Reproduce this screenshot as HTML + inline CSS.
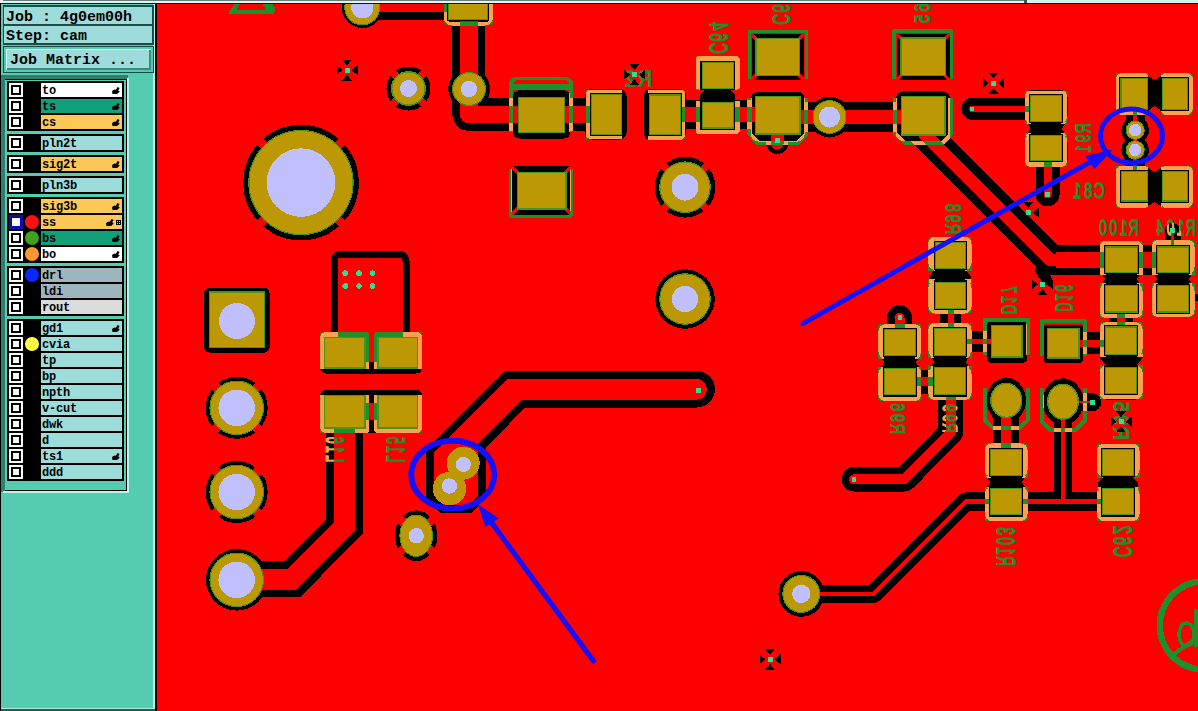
<!DOCTYPE html>
<html><head><meta charset="utf-8"><title>cam</title>
<style>
html,body{margin:0;padding:0;}
body{width:1198px;height:711px;overflow:hidden;position:relative;background:#55c8ac;font-family:"Liberation Mono",monospace;}
.a{position:absolute;box-sizing:border-box;}
.t{position:absolute;font-family:"Liberation Mono",monospace;font-weight:bold;color:#000;white-space:pre;line-height:1;}
.big{font-size:15px;letter-spacing:0px;}
.row{position:absolute;left:7px;width:117px;height:16px;}
.cb{position:absolute;left:2px;top:2px;width:14px;height:14px;background:#fff;box-sizing:border-box;}
.cb i{position:absolute;left:2px;top:2px;width:10px;height:10px;border:2px solid #000;box-sizing:border-box;background:#fff;}
.lb{position:absolute;left:34px;top:2px;width:81px;height:14px;}
.lb span{position:absolute;left:1px;top:1px;font-family:"Liberation Mono",monospace;font-weight:bold;font-size:12px;line-height:15px;color:#000;letter-spacing:-0.2px;}
.dotc{position:absolute;left:18px;top:2px;width:14px;height:14px;border-radius:50%;}

</style></head><body>
<svg width="1198" height="711" viewBox="0 0 1198 711" style="position:absolute;left:0;top:0" shape-rendering="crispEdges">
<defs><mask id="mk" maskUnits="userSpaceOnUse" x="0" y="0" width="1198" height="711"><rect x="0" y="0" width="1198" height="711" fill="#000"/>
<polyline points="362,7.5 470,7.5" fill="none" stroke="#fff" stroke-width="25" stroke-linecap="round" stroke-linejoin="round"/>
<polyline points="468.8,10 468.8,114.4 600,114.4" fill="none" stroke="#fff" stroke-width="32.8" stroke-linecap="round" stroke-linejoin="round"/>
<polyline points="670,114.4 775,114.4" fill="none" stroke="#fff" stroke-width="29.5" stroke-linecap="butt" stroke-linejoin="round"/>
<polyline points="780,117 829.5,117 910,117" fill="none" stroke="#fff" stroke-width="29.2" stroke-linecap="butt" stroke-linejoin="round"/>
<polyline points="972.4,108.8 1035,108.8" fill="none" stroke="#fff" stroke-width="22" stroke-linecap="round" stroke-linejoin="round"/>
<polyline points="1047.6,158 1047.6,194.3" fill="none" stroke="#fff" stroke-width="24" stroke-linecap="round" stroke-linejoin="round"/>
<polyline points="923.6,120 923.6,133 1050.6,260 1062,260" fill="none" stroke="#fff" stroke-width="30.5" stroke-linecap="butt" stroke-linejoin="round"/>
<polyline points="1056,260 1165,260" fill="none" stroke="#fff" stroke-width="30" stroke-linecap="butt" stroke-linejoin="round"/>
<polyline points="1040,270 1047,280" fill="none" stroke="#fff" stroke-width="10" stroke-linecap="round" stroke-linejoin="round"/>
<polyline points="1172.5,231 1172.5,250" fill="none" stroke="#fff" stroke-width="16" stroke-linecap="round" stroke-linejoin="round"/>
<polyline points="950.5,300 950.5,335" fill="none" stroke="#fff" stroke-width="21" stroke-linecap="butt" stroke-linejoin="round"/>
<polyline points="899.5,317.5 899.5,335" fill="none" stroke="#fff" stroke-width="25" stroke-linecap="round" stroke-linejoin="round"/>
<polyline points="905,381.5 945,381.5" fill="none" stroke="#fff" stroke-width="24" stroke-linecap="butt" stroke-linejoin="round"/>
<polyline points="955,341.5 1000,341.5" fill="none" stroke="#fff" stroke-width="21" stroke-linecap="butt" stroke-linejoin="round"/>
<polyline points="1070,343 1115,343" fill="none" stroke="#fff" stroke-width="21.5" stroke-linecap="butt" stroke-linejoin="round"/>
<polyline points="1121,300 1121,335" fill="none" stroke="#fff" stroke-width="24" stroke-linecap="butt" stroke-linejoin="round"/>
<polyline points="950.75,385 950.75,432.6 904.5,479.2 854,479.2" fill="none" stroke="#fff" stroke-width="24.6" stroke-linecap="round" stroke-linejoin="round"/>
<polyline points="1006.3,401 1006.3,455" fill="none" stroke="#fff" stroke-width="26" stroke-linecap="butt" stroke-linejoin="round"/>
<polyline points="1063,402 1063,501.5" fill="none" stroke="#fff" stroke-width="17.5" stroke-linecap="butt" stroke-linejoin="round"/>
<polyline points="1063,402.2 1092.4,402.2" fill="none" stroke="#fff" stroke-width="18" stroke-linecap="round" stroke-linejoin="round"/>
<polyline points="801.3,593.7 873.9,593.7 966.2,501.4 1118,501.4" fill="none" stroke="#fff" stroke-width="18.4" stroke-linecap="butt" stroke-linejoin="round"/>
<path d="M696.5,371.3 L504.9,371.3 L426.6,449.6 L426.6,497 L440,512 L472,512 L485.4,497 L485.4,446.9 L525.3,407 L696.5,407 A17.85,17.85 0 0 0 696.5,371.3 Z" fill="#fff" stroke="#fff" stroke-width="1" stroke-linejoin="round"/>
<polyline points="344.5,420 344.5,526.6 292,579.15 237,579.15" fill="none" stroke="#fff" stroke-width="36.6" stroke-linecap="butt" stroke-linejoin="miter"/>
<polyline points="1188,297.5 1198,297.5" fill="none" stroke="#fff" stroke-width="7" stroke-linecap="butt" stroke-linejoin="round"/>
<polyline points="1135.2,104 1135.2,176" fill="none" stroke="#fff" stroke-width="19" stroke-linecap="butt" stroke-linejoin="round"/>
<circle cx="1135.2" cy="130.2" r="13.8" fill="#fff" />
<circle cx="1135.2" cy="150" r="13.8" fill="#fff" />
<circle cx="362.3" cy="7.5" r="20.5" fill="#fff" />
<circle cx="408.5" cy="88.5" r="19.5" fill="none" stroke="#fff" stroke-width="5.0"/>
<circle cx="301" cy="182.6" r="55.0" fill="none" stroke="#fff" stroke-width="5.599999999999994"/>
<circle cx="685" cy="187.2" r="27.85" fill="none" stroke="#fff" stroke-width="5.099999999999998"/>
<circle cx="685" cy="299" r="29.8" fill="#fff" />
<circle cx="469.1" cy="89" r="20.9" fill="#fff" />
<circle cx="829.5" cy="117" r="20.5" fill="#fff" />
<circle cx="801.3" cy="593.9" r="22.9" fill="#fff" />
<circle cx="236.7" cy="407.8" r="28.9" fill="none" stroke="#fff" stroke-width="4.199999999999999"/>
<circle cx="236.7" cy="492" r="28.9" fill="none" stroke="#fff" stroke-width="4.199999999999999"/>
<circle cx="236.7" cy="579.8" r="30.8" fill="#fff" />
<ellipse cx="416.2" cy="535.7" rx="18.75" ry="22.85" fill="none" stroke="#fff" stroke-width="4.899999999999999"/>
<rect x="204.2" y="288" width="65.30000000000001" height="64.60000000000002" rx="5" fill="#fff"/>
<rect x="444" y="0" width="49" height="25" rx="7" fill="#fff"/>
<rect x="512.8" y="90.4" width="57.60000000000002" height="48.099999999999994" rx="6" fill="#fff"/>
<rect x="511" y="166" width="60" height="49" fill="#fff"/>
<rect x="585" y="89" width="41.5" height="50.5" rx="7" fill="#fff"/>
<rect x="643.5" y="89" width="42.5" height="51" rx="7" fill="#fff"/>
<rect x="695.5" y="56.3" width="44.5" height="33.2" rx="3" fill="#fff"/>
<polygon points="706,89 730,89 735,95 735,102 699.8,102 699.8,95" fill="#fff"/>
<rect x="695.5" y="101.5" width="44.5" height="32.5" rx="3" fill="#fff"/>
<rect x="751.1" y="91.5" width="53.5" height="50.0" rx="7" fill="#fff"/>
<polyline points="777.2,128 777.2,143" fill="none" stroke="#fff" stroke-width="22" stroke-linecap="round" stroke-linejoin="round"/>
<rect x="751.8" y="34" width="51.90000000000009" height="46.3" fill="#fff"/>
<rect x="896.5" y="33.7" width="53.10000000000002" height="46.3" fill="#fff"/>
<rect x="895.5" y="91.4" width="54.89999999999998" height="49.599999999999994" rx="8" fill="#fff"/>
<rect x="1024.5" y="90" width="43.0" height="33" rx="7" fill="#fff"/>
<polygon points="1026.5,122 1066,122 1062,128.75 1066,135.5 1026.5,135.5 1030.5,128.75" fill="#fff"/>
<rect x="1024.5" y="134.5" width="43.0" height="32.5" rx="7" fill="#fff"/>
<rect x="1115.5" y="73" width="34.5" height="42" rx="7" fill="#fff"/>
<polygon points="1147,75 1154.5,80 1162,75 1162,111 1154.5,106 1147,111" fill="#fff"/>
<rect x="1160" y="73" width="33" height="42" rx="7" fill="#fff"/>
<rect x="1115.5" y="165.5" width="34.5" height="42.5" rx="7" fill="#fff"/>
<polygon points="1147,167 1154.5,172 1162,167 1162,207 1154.5,202 1147,207" fill="#fff"/>
<rect x="1160" y="165.5" width="33" height="42.5" rx="7" fill="#fff"/>
<rect x="1099.5" y="240.5" width="43.09999999999991" height="33.5" rx="7" fill="#fff"/>
<polygon points="1101,272.7 1141,272.7 1137,279.04999999999995 1141,285.4 1101,285.4 1105,279.04999999999995" fill="#fff"/>
<rect x="1099.5" y="284" width="43.09999999999991" height="34" rx="7" fill="#fff"/>
<rect x="1151.5" y="240" width="43.09999999999991" height="34" rx="7" fill="#fff"/>
<polygon points="1153,272.7 1193,272.7 1189,279.04999999999995 1193,285.4 1153,285.4 1157,279.04999999999995" fill="#fff"/>
<rect x="1151.5" y="284" width="43.09999999999991" height="33" rx="7" fill="#fff"/>
<rect x="928.4" y="236.7" width="43.10000000000002" height="33.30000000000001" rx="7" fill="#fff"/>
<polygon points="936,268 965,268 971,277 971,283 929,283 929,277" fill="#fff"/>
<rect x="928.4" y="280.5" width="43.10000000000002" height="33.0" rx="7" fill="#fff"/>
<rect x="928.4" y="322.5" width="43.10000000000002" height="34.5" rx="7" fill="#fff"/>
<polygon points="930,355 970,355 966,361.7 970,368.4 930,368.4 934,361.7" fill="#fff"/>
<rect x="928.4" y="366.5" width="43.10000000000002" height="33.5" rx="7" fill="#fff"/>
<rect x="878.4" y="324.2" width="43.0" height="33.80000000000001" rx="7" fill="#fff"/>
<polygon points="880,356 920,356 916,362.2 920,368.4 880,368.4 884,362.2" fill="#fff"/>
<rect x="878.4" y="367" width="43.0" height="34" rx="7" fill="#fff"/>
<rect x="987" y="321.7" width="40" height="40.900000000000034" rx="4" fill="#fff"/>
<rect x="1043.6" y="324.5" width="39.40000000000009" height="38.5" rx="4" fill="#fff"/>
<rect x="1099.5" y="322.3" width="43.09999999999991" height="33.69999999999999" rx="7" fill="#fff"/>
<polygon points="1100,354 1142.6,354 1142.6,358 1135,367.6 1107,367.6 1100,358" fill="#fff"/>
<rect x="1099.5" y="365.5" width="43.09999999999991" height="34.0" rx="7" fill="#fff"/>
<ellipse cx="1006.3" cy="400.4" rx="19.6" ry="23" fill="#fff"/>
<ellipse cx="1063" cy="401.7" rx="20.4" ry="23.4" fill="#fff"/>
<rect x="984.7" y="443.4" width="42.899999999999864" height="33.60000000000002" rx="7" fill="#fff"/>
<polygon points="986,476 1026,476 1022,482.2 1026,488.4 986,488.4 990,482.2" fill="#fff"/>
<rect x="984.7" y="487" width="42.899999999999864" height="34" rx="7" fill="#fff"/>
<rect x="1097" y="443.7" width="42.5" height="33.30000000000001" rx="7" fill="#fff"/>
<polygon points="1103,476 1132,476 1138,483 1138,489 1098,489 1098,483" fill="#fff"/>
<rect x="1097" y="487" width="42.5" height="34" rx="7" fill="#fff"/>
<path d="M334,334 V261 a7,7 0 0 1 7,-7 H399 a7,7 0 0 1 7,7 V334" fill="none" stroke="#fff" stroke-width="7"/>
<rect x="320" y="332" width="102.4" height="41.5" rx="6" fill="#fff"/>
<rect x="320" y="390" width="102.4" height="43" rx="6" fill="#fff"/>
<polyline points="362,7.5 470,7.5" fill="none" stroke="#000000" stroke-width="9" stroke-linecap="round" stroke-linejoin="round"/>
<polyline points="468.8,10 468.8,114.4 600,114.4" fill="none" stroke="#000000" stroke-width="17.8" stroke-linecap="round" stroke-linejoin="round"/>
<polyline points="670,114.4 775,114.4" fill="none" stroke="#000000" stroke-width="14.8" stroke-linecap="butt" stroke-linejoin="round"/>
<polyline points="780,117 829.5,117 910,117" fill="none" stroke="#000000" stroke-width="14.6" stroke-linecap="butt" stroke-linejoin="round"/>
<polyline points="972.4,108.8 1035,108.8" fill="none" stroke="#000000" stroke-width="6.4" stroke-linecap="round" stroke-linejoin="round"/>
<polyline points="1047.6,158 1047.6,194.3" fill="none" stroke="#000000" stroke-width="8" stroke-linecap="round" stroke-linejoin="round"/>
<polyline points="923.6,120 923.6,133 1050.6,260 1062,260" fill="none" stroke="#000000" stroke-width="12.5" stroke-linecap="butt" stroke-linejoin="round"/>
<polyline points="1056,260 1165,260" fill="none" stroke="#000000" stroke-width="15.3" stroke-linecap="butt" stroke-linejoin="round"/>
<polyline points="1172.5,231 1172.5,250" fill="none" stroke="#000000" stroke-width="3" stroke-linecap="round" stroke-linejoin="round"/>
<polyline points="950.5,300 950.5,335" fill="none" stroke="#000000" stroke-width="6" stroke-linecap="butt" stroke-linejoin="round"/>
<polyline points="899.5,317.5 899.5,335" fill="none" stroke="#000000" stroke-width="10" stroke-linecap="round" stroke-linejoin="round"/>
<polyline points="905,381.5 945,381.5" fill="none" stroke="#000000" stroke-width="9" stroke-linecap="butt" stroke-linejoin="round"/>
<polyline points="955,341.5 1000,341.5" fill="none" stroke="#000000" stroke-width="5" stroke-linecap="butt" stroke-linejoin="round"/>
<polyline points="1070,343 1115,343" fill="none" stroke="#000000" stroke-width="7" stroke-linecap="butt" stroke-linejoin="round"/>
<polyline points="1121,300 1121,335" fill="none" stroke="#000000" stroke-width="7.5" stroke-linecap="butt" stroke-linejoin="round"/>
<polyline points="950.75,385 950.75,432.6 904.5,479.2 854,479.2" fill="none" stroke="#000000" stroke-width="9.9" stroke-linecap="round" stroke-linejoin="round"/>
<polyline points="1006.3,401 1006.3,455" fill="none" stroke="#000000" stroke-width="10" stroke-linecap="butt" stroke-linejoin="round"/>
<polyline points="1063,402 1063,501.5" fill="none" stroke="#000000" stroke-width="4" stroke-linecap="butt" stroke-linejoin="round"/>
<polyline points="1063,402.2 1092.4,402.2" fill="none" stroke="#000000" stroke-width="1.5" stroke-linecap="round" stroke-linejoin="round"/>
<polyline points="801.3,593.7 873.9,593.7 966.2,501.4 1118,501.4" fill="none" stroke="#000000" stroke-width="4.2" stroke-linecap="butt" stroke-linejoin="round"/>
<path d="M696.5,378.9 L507.6,378.9 L433.8,452.7 L433.8,495 L443,505 L469,505 L478.4,495 L478.4,443.6 L522.3,399.7 L696.5,399.7 A10.4,10.4 0 0 0 696.5,378.9 Z" fill="#000000"/>
<polyline points="344.5,420 344.5,526.6 292,579.15 237,579.15" fill="none" stroke="#000000" stroke-width="21" stroke-linecap="butt" stroke-linejoin="miter"/>
<polyline points="1135.2,104 1135.2,176" fill="none" stroke="#000000" stroke-width="3.5" stroke-linecap="butt" stroke-linejoin="round"/>
<line x1="391.9" y1="71.9" x2="425.1" y2="105.1" stroke="#000000" stroke-width="8"/>
<line x1="425.1" y1="71.9" x2="391.9" y2="105.1" stroke="#000000" stroke-width="8"/>
<line x1="259.1" y1="140.7" x2="342.9" y2="224.5" stroke="#000000" stroke-width="8"/>
<line x1="342.9" y1="140.7" x2="259.1" y2="224.5" stroke="#000000" stroke-width="8"/>
<line x1="662.4" y1="164.6" x2="707.6" y2="209.8" stroke="#000000" stroke-width="7"/>
<line x1="707.6" y1="164.6" x2="662.4" y2="209.8" stroke="#000000" stroke-width="7"/>
<line x1="213.7" y1="384.8" x2="259.7" y2="430.8" stroke="#000000" stroke-width="9"/>
<line x1="259.7" y1="384.8" x2="213.7" y2="430.8" stroke="#000000" stroke-width="9"/>
<line x1="213.7" y1="469.0" x2="259.7" y2="515.0" stroke="#000000" stroke-width="9"/>
<line x1="259.7" y1="469.0" x2="213.7" y2="515.0" stroke="#000000" stroke-width="9"/>
<line x1="397.5" y1="517.0" x2="434.9" y2="554.4" stroke="#000000" stroke-width="8"/>
<line x1="434.9" y1="517.0" x2="397.5" y2="554.4" stroke="#000000" stroke-width="8"/>
<line x1="519" y1="174" x2="508" y2="163" stroke="#000000" stroke-width="3"/>
<line x1="564" y1="174" x2="575" y2="163" stroke="#000000" stroke-width="3"/>
<line x1="519" y1="207" x2="508" y2="218" stroke="#000000" stroke-width="3"/>
<line x1="564" y1="207" x2="575" y2="218" stroke="#000000" stroke-width="3"/>
<polyline points="777.2,128 777.2,143" fill="none" stroke="#000000" stroke-width="13" stroke-linecap="round" stroke-linejoin="round"/>
<line x1="757.5" y1="40.4" x2="748.1" y2="31.0" stroke="#000000" stroke-width="3"/>
<line x1="797.5" y1="40.4" x2="806.9" y2="31.0" stroke="#000000" stroke-width="3"/>
<line x1="757.5" y1="73.6" x2="747.8" y2="83.3" stroke="#000000" stroke-width="3"/>
<line x1="797.5" y1="73.6" x2="807.2" y2="83.3" stroke="#000000" stroke-width="3"/>
<line x1="902.5" y1="39.8" x2="893.4" y2="30.700000000000003" stroke="#000000" stroke-width="3"/>
<line x1="943.6" y1="39.8" x2="952.7" y2="30.700000000000003" stroke="#000000" stroke-width="3"/>
<line x1="902.5" y1="73.9" x2="893.4" y2="83.0" stroke="#000000" stroke-width="3"/>
<line x1="943.6" y1="73.9" x2="952.7" y2="83.0" stroke="#000000" stroke-width="3"/>
<rect x="337.5" y="325" width="65" height="15" fill="#000000"/>
<rect x="364" y="332" width="14.5" height="30" fill="#000000"/>
<rect x="360" y="402.7" width="22" height="17" fill="#000000"/>
</mask><clipPath id="pc"><rect x="157" y="4" width="1041" height="707"/></clipPath></defs>
<rect x="157" y="4" width="1041" height="707" fill="#ff0000"/>
<g clip-path="url(#pc)">
<g id="black">
<polyline points="362,7.5 470,7.5" fill="none" stroke="#000000" stroke-width="25" stroke-linecap="round" stroke-linejoin="round"/>
<polyline points="468.8,10 468.8,114.4 600,114.4" fill="none" stroke="#000000" stroke-width="32.8" stroke-linecap="round" stroke-linejoin="round"/>
<polyline points="670,114.4 775,114.4" fill="none" stroke="#000000" stroke-width="29.5" stroke-linecap="butt" stroke-linejoin="round"/>
<polyline points="780,117 829.5,117 910,117" fill="none" stroke="#000000" stroke-width="29.2" stroke-linecap="butt" stroke-linejoin="round"/>
<polyline points="972.4,108.8 1035,108.8" fill="none" stroke="#000000" stroke-width="22" stroke-linecap="round" stroke-linejoin="round"/>
<polyline points="1047.6,158 1047.6,194.3" fill="none" stroke="#000000" stroke-width="24" stroke-linecap="round" stroke-linejoin="round"/>
<polyline points="923.6,120 923.6,133 1050.6,260 1062,260" fill="none" stroke="#000000" stroke-width="30.5" stroke-linecap="butt" stroke-linejoin="round"/>
<polyline points="1056,260 1165,260" fill="none" stroke="#000000" stroke-width="30" stroke-linecap="butt" stroke-linejoin="round"/>
<polyline points="1040,270 1047,280" fill="none" stroke="#000000" stroke-width="10" stroke-linecap="round" stroke-linejoin="round"/>
<polyline points="1172.5,231 1172.5,250" fill="none" stroke="#000000" stroke-width="16" stroke-linecap="round" stroke-linejoin="round"/>
<polyline points="950.5,300 950.5,335" fill="none" stroke="#000000" stroke-width="21" stroke-linecap="butt" stroke-linejoin="round"/>
<polyline points="899.5,317.5 899.5,335" fill="none" stroke="#000000" stroke-width="25" stroke-linecap="round" stroke-linejoin="round"/>
<polyline points="905,381.5 945,381.5" fill="none" stroke="#000000" stroke-width="24" stroke-linecap="butt" stroke-linejoin="round"/>
<polyline points="955,341.5 1000,341.5" fill="none" stroke="#000000" stroke-width="21" stroke-linecap="butt" stroke-linejoin="round"/>
<polyline points="1070,343 1115,343" fill="none" stroke="#000000" stroke-width="21.5" stroke-linecap="butt" stroke-linejoin="round"/>
<polyline points="1121,300 1121,335" fill="none" stroke="#000000" stroke-width="24" stroke-linecap="butt" stroke-linejoin="round"/>
<polyline points="950.75,385 950.75,432.6 904.5,479.2 854,479.2" fill="none" stroke="#000000" stroke-width="24.6" stroke-linecap="round" stroke-linejoin="round"/>
<polyline points="1006.3,401 1006.3,455" fill="none" stroke="#000000" stroke-width="26" stroke-linecap="butt" stroke-linejoin="round"/>
<polyline points="1063,402 1063,501.5" fill="none" stroke="#000000" stroke-width="17.5" stroke-linecap="butt" stroke-linejoin="round"/>
<polyline points="1063,402.2 1092.4,402.2" fill="none" stroke="#000000" stroke-width="18" stroke-linecap="round" stroke-linejoin="round"/>
<polyline points="801.3,593.7 873.9,593.7 966.2,501.4 1118,501.4" fill="none" stroke="#000000" stroke-width="18.4" stroke-linecap="butt" stroke-linejoin="round"/>
<path d="M696.5,371.3 L504.9,371.3 L426.6,449.6 L426.6,497 L440,512 L472,512 L485.4,497 L485.4,446.9 L525.3,407 L696.5,407 A17.85,17.85 0 0 0 696.5,371.3 Z" fill="#000000" stroke="#000000" stroke-width="1" stroke-linejoin="round"/>
<polyline points="344.5,420 344.5,526.6 292,579.15 237,579.15" fill="none" stroke="#000000" stroke-width="36.6" stroke-linecap="butt" stroke-linejoin="miter"/>
<polyline points="1188,297.5 1198,297.5" fill="none" stroke="#000000" stroke-width="7" stroke-linecap="butt" stroke-linejoin="round"/>
<polyline points="1135.2,104 1135.2,176" fill="none" stroke="#000000" stroke-width="19" stroke-linecap="butt" stroke-linejoin="round"/>
<circle cx="1135.2" cy="130.2" r="13.8" fill="#000000" />
<circle cx="1135.2" cy="150" r="13.8" fill="#000000" />
<circle cx="362.3" cy="7.5" r="20.5" fill="#000000" />
<circle cx="408.5" cy="88.5" r="19.5" fill="none" stroke="#000000" stroke-width="5.0"/>
<circle cx="301" cy="182.6" r="55.0" fill="none" stroke="#000000" stroke-width="5.599999999999994"/>
<circle cx="685" cy="187.2" r="27.85" fill="none" stroke="#000000" stroke-width="5.099999999999998"/>
<circle cx="685" cy="299" r="29.8" fill="#000000" />
<circle cx="469.1" cy="89" r="20.9" fill="#000000" />
<circle cx="829.5" cy="117" r="20.5" fill="#000000" />
<circle cx="801.3" cy="593.9" r="22.9" fill="#000000" />
<circle cx="236.7" cy="407.8" r="28.9" fill="none" stroke="#000000" stroke-width="4.199999999999999"/>
<circle cx="236.7" cy="492" r="28.9" fill="none" stroke="#000000" stroke-width="4.199999999999999"/>
<circle cx="236.7" cy="579.8" r="30.8" fill="#000000" />
<ellipse cx="416.2" cy="535.7" rx="18.75" ry="22.85" fill="none" stroke="#000000" stroke-width="4.899999999999999"/>
<rect x="204.2" y="288" width="65.30000000000001" height="64.60000000000002" rx="5" fill="#000000"/>
<rect x="444" y="0" width="49" height="25" rx="7" fill="#000000"/>
<rect x="512.8" y="90.4" width="57.60000000000002" height="48.099999999999994" rx="6" fill="#000000"/>
<rect x="511" y="166" width="60" height="49" fill="#000000"/>
<rect x="585" y="89" width="41.5" height="50.5" rx="7" fill="#000000"/>
<rect x="643.5" y="89" width="42.5" height="51" rx="7" fill="#000000"/>
<rect x="695.5" y="56.3" width="44.5" height="33.2" rx="3" fill="#000000"/>
<polygon points="706,89 730,89 735,95 735,102 699.8,102 699.8,95" fill="#000000"/>
<rect x="695.5" y="101.5" width="44.5" height="32.5" rx="3" fill="#000000"/>
<rect x="751.1" y="91.5" width="53.5" height="50.0" rx="7" fill="#000000"/>
<polyline points="777.2,128 777.2,143" fill="none" stroke="#000000" stroke-width="22" stroke-linecap="round" stroke-linejoin="round"/>
<rect x="751.8" y="34" width="51.90000000000009" height="46.3" fill="#000000"/>
<rect x="896.5" y="33.7" width="53.10000000000002" height="46.3" fill="#000000"/>
<rect x="895.5" y="91.4" width="54.89999999999998" height="49.599999999999994" rx="8" fill="#000000"/>
<rect x="1024.5" y="90" width="43.0" height="33" rx="7" fill="#000000"/>
<polygon points="1026.5,122 1066,122 1062,128.75 1066,135.5 1026.5,135.5 1030.5,128.75" fill="#000000"/>
<rect x="1024.5" y="134.5" width="43.0" height="32.5" rx="7" fill="#000000"/>
<rect x="1115.5" y="73" width="34.5" height="42" rx="7" fill="#000000"/>
<polygon points="1147,75 1154.5,80 1162,75 1162,111 1154.5,106 1147,111" fill="#000000"/>
<rect x="1160" y="73" width="33" height="42" rx="7" fill="#000000"/>
<rect x="1115.5" y="165.5" width="34.5" height="42.5" rx="7" fill="#000000"/>
<polygon points="1147,167 1154.5,172 1162,167 1162,207 1154.5,202 1147,207" fill="#000000"/>
<rect x="1160" y="165.5" width="33" height="42.5" rx="7" fill="#000000"/>
<rect x="1099.5" y="240.5" width="43.09999999999991" height="33.5" rx="7" fill="#000000"/>
<polygon points="1101,272.7 1141,272.7 1137,279.04999999999995 1141,285.4 1101,285.4 1105,279.04999999999995" fill="#000000"/>
<rect x="1099.5" y="284" width="43.09999999999991" height="34" rx="7" fill="#000000"/>
<rect x="1151.5" y="240" width="43.09999999999991" height="34" rx="7" fill="#000000"/>
<polygon points="1153,272.7 1193,272.7 1189,279.04999999999995 1193,285.4 1153,285.4 1157,279.04999999999995" fill="#000000"/>
<rect x="1151.5" y="284" width="43.09999999999991" height="33" rx="7" fill="#000000"/>
<rect x="928.4" y="236.7" width="43.10000000000002" height="33.30000000000001" rx="7" fill="#000000"/>
<polygon points="936,268 965,268 971,277 971,283 929,283 929,277" fill="#000000"/>
<rect x="928.4" y="280.5" width="43.10000000000002" height="33.0" rx="7" fill="#000000"/>
<rect x="928.4" y="322.5" width="43.10000000000002" height="34.5" rx="7" fill="#000000"/>
<polygon points="930,355 970,355 966,361.7 970,368.4 930,368.4 934,361.7" fill="#000000"/>
<rect x="928.4" y="366.5" width="43.10000000000002" height="33.5" rx="7" fill="#000000"/>
<rect x="878.4" y="324.2" width="43.0" height="33.80000000000001" rx="7" fill="#000000"/>
<polygon points="880,356 920,356 916,362.2 920,368.4 880,368.4 884,362.2" fill="#000000"/>
<rect x="878.4" y="367" width="43.0" height="34" rx="7" fill="#000000"/>
<rect x="987" y="321.7" width="40" height="40.900000000000034" rx="4" fill="#000000"/>
<rect x="1043.6" y="324.5" width="39.40000000000009" height="38.5" rx="4" fill="#000000"/>
<rect x="1099.5" y="322.3" width="43.09999999999991" height="33.69999999999999" rx="7" fill="#000000"/>
<polygon points="1100,354 1142.6,354 1142.6,358 1135,367.6 1107,367.6 1100,358" fill="#000000"/>
<rect x="1099.5" y="365.5" width="43.09999999999991" height="34.0" rx="7" fill="#000000"/>
<ellipse cx="1006.3" cy="400.4" rx="19.6" ry="23" fill="#000000"/>
<ellipse cx="1063" cy="401.7" rx="20.4" ry="23.4" fill="#000000"/>
<rect x="984.7" y="443.4" width="42.899999999999864" height="33.60000000000002" rx="7" fill="#000000"/>
<polygon points="986,476 1026,476 1022,482.2 1026,488.4 986,488.4 990,482.2" fill="#000000"/>
<rect x="984.7" y="487" width="42.899999999999864" height="34" rx="7" fill="#000000"/>
<rect x="1097" y="443.7" width="42.5" height="33.30000000000001" rx="7" fill="#000000"/>
<polygon points="1103,476 1132,476 1138,483 1138,489 1098,489 1098,483" fill="#000000"/>
<rect x="1097" y="487" width="42.5" height="34" rx="7" fill="#000000"/>
<path d="M334,334 V261 a7,7 0 0 1 7,-7 H399 a7,7 0 0 1 7,7 V334" fill="none" stroke="#000000" stroke-width="7"/>
<rect x="320" y="332" width="102.4" height="41.5" rx="6" fill="#000000"/>
<rect x="320" y="390" width="102.4" height="43" rx="6" fill="#000000"/>
</g>
<g id="red">
<polyline points="362,7.5 470,7.5" fill="none" stroke="#ff0000" stroke-width="9" stroke-linecap="round" stroke-linejoin="round"/>
<polyline points="468.8,10 468.8,114.4 600,114.4" fill="none" stroke="#ff0000" stroke-width="17.8" stroke-linecap="round" stroke-linejoin="round"/>
<polyline points="670,114.4 775,114.4" fill="none" stroke="#ff0000" stroke-width="14.8" stroke-linecap="butt" stroke-linejoin="round"/>
<polyline points="780,117 829.5,117 910,117" fill="none" stroke="#ff0000" stroke-width="14.6" stroke-linecap="butt" stroke-linejoin="round"/>
<polyline points="972.4,108.8 1035,108.8" fill="none" stroke="#ff0000" stroke-width="6.4" stroke-linecap="round" stroke-linejoin="round"/>
<polyline points="1047.6,158 1047.6,194.3" fill="none" stroke="#ff0000" stroke-width="8" stroke-linecap="round" stroke-linejoin="round"/>
<polyline points="923.6,120 923.6,133 1050.6,260 1062,260" fill="none" stroke="#ff0000" stroke-width="12.5" stroke-linecap="butt" stroke-linejoin="round"/>
<polyline points="1056,260 1165,260" fill="none" stroke="#ff0000" stroke-width="15.3" stroke-linecap="butt" stroke-linejoin="round"/>
<polyline points="1172.5,231 1172.5,250" fill="none" stroke="#ff0000" stroke-width="3" stroke-linecap="round" stroke-linejoin="round"/>
<polyline points="950.5,300 950.5,335" fill="none" stroke="#ff0000" stroke-width="6" stroke-linecap="butt" stroke-linejoin="round"/>
<polyline points="899.5,317.5 899.5,335" fill="none" stroke="#ff0000" stroke-width="10" stroke-linecap="round" stroke-linejoin="round"/>
<polyline points="905,381.5 945,381.5" fill="none" stroke="#ff0000" stroke-width="9" stroke-linecap="butt" stroke-linejoin="round"/>
<polyline points="955,341.5 1000,341.5" fill="none" stroke="#ff0000" stroke-width="5" stroke-linecap="butt" stroke-linejoin="round"/>
<polyline points="1070,343 1115,343" fill="none" stroke="#ff0000" stroke-width="7" stroke-linecap="butt" stroke-linejoin="round"/>
<polyline points="1121,300 1121,335" fill="none" stroke="#ff0000" stroke-width="7.5" stroke-linecap="butt" stroke-linejoin="round"/>
<polyline points="950.75,385 950.75,432.6 904.5,479.2 854,479.2" fill="none" stroke="#ff0000" stroke-width="9.9" stroke-linecap="round" stroke-linejoin="round"/>
<polyline points="1006.3,401 1006.3,455" fill="none" stroke="#ff0000" stroke-width="10" stroke-linecap="butt" stroke-linejoin="round"/>
<polyline points="1063,402 1063,501.5" fill="none" stroke="#ff0000" stroke-width="4" stroke-linecap="butt" stroke-linejoin="round"/>
<polyline points="1063,402.2 1092.4,402.2" fill="none" stroke="#ff0000" stroke-width="1.5" stroke-linecap="round" stroke-linejoin="round"/>
<polyline points="801.3,593.7 873.9,593.7 966.2,501.4 1118,501.4" fill="none" stroke="#ff0000" stroke-width="4.2" stroke-linecap="butt" stroke-linejoin="round"/>
<path d="M696.5,378.9 L507.6,378.9 L433.8,452.7 L433.8,495 L443,505 L469,505 L478.4,495 L478.4,443.6 L522.3,399.7 L696.5,399.7 A10.4,10.4 0 0 0 696.5,378.9 Z" fill="#ff0000"/>
<polyline points="344.5,420 344.5,526.6 292,579.15 237,579.15" fill="none" stroke="#ff0000" stroke-width="21" stroke-linecap="butt" stroke-linejoin="miter"/>
<polyline points="1135.2,104 1135.2,176" fill="none" stroke="#ff0000" stroke-width="3.5" stroke-linecap="butt" stroke-linejoin="round"/>
<line x1="391.9" y1="71.9" x2="425.1" y2="105.1" stroke="#ff0000" stroke-width="8"/>
<line x1="425.1" y1="71.9" x2="391.9" y2="105.1" stroke="#ff0000" stroke-width="8"/>
<line x1="259.1" y1="140.7" x2="342.9" y2="224.5" stroke="#ff0000" stroke-width="8"/>
<line x1="342.9" y1="140.7" x2="259.1" y2="224.5" stroke="#ff0000" stroke-width="8"/>
<line x1="662.4" y1="164.6" x2="707.6" y2="209.8" stroke="#ff0000" stroke-width="7"/>
<line x1="707.6" y1="164.6" x2="662.4" y2="209.8" stroke="#ff0000" stroke-width="7"/>
<line x1="213.7" y1="384.8" x2="259.7" y2="430.8" stroke="#ff0000" stroke-width="9"/>
<line x1="259.7" y1="384.8" x2="213.7" y2="430.8" stroke="#ff0000" stroke-width="9"/>
<line x1="213.7" y1="469.0" x2="259.7" y2="515.0" stroke="#ff0000" stroke-width="9"/>
<line x1="259.7" y1="469.0" x2="213.7" y2="515.0" stroke="#ff0000" stroke-width="9"/>
<line x1="397.5" y1="517.0" x2="434.9" y2="554.4" stroke="#ff0000" stroke-width="8"/>
<line x1="434.9" y1="517.0" x2="397.5" y2="554.4" stroke="#ff0000" stroke-width="8"/>
<line x1="519" y1="174" x2="508" y2="163" stroke="#ff0000" stroke-width="3"/>
<line x1="564" y1="174" x2="575" y2="163" stroke="#ff0000" stroke-width="3"/>
<line x1="519" y1="207" x2="508" y2="218" stroke="#ff0000" stroke-width="3"/>
<line x1="564" y1="207" x2="575" y2="218" stroke="#ff0000" stroke-width="3"/>
<polyline points="777.2,128 777.2,143" fill="none" stroke="#ff0000" stroke-width="13" stroke-linecap="round" stroke-linejoin="round"/>
<line x1="757.5" y1="40.4" x2="748.1" y2="31.0" stroke="#ff0000" stroke-width="3"/>
<line x1="797.5" y1="40.4" x2="806.9" y2="31.0" stroke="#ff0000" stroke-width="3"/>
<line x1="757.5" y1="73.6" x2="747.8" y2="83.3" stroke="#ff0000" stroke-width="3"/>
<line x1="797.5" y1="73.6" x2="807.2" y2="83.3" stroke="#ff0000" stroke-width="3"/>
<line x1="902.5" y1="39.8" x2="893.4" y2="30.700000000000003" stroke="#ff0000" stroke-width="3"/>
<line x1="943.6" y1="39.8" x2="952.7" y2="30.700000000000003" stroke="#ff0000" stroke-width="3"/>
<line x1="902.5" y1="73.9" x2="893.4" y2="83.0" stroke="#ff0000" stroke-width="3"/>
<line x1="943.6" y1="73.9" x2="952.7" y2="83.0" stroke="#ff0000" stroke-width="3"/>
<rect x="337.5" y="325" width="65" height="15" fill="#ff0000"/>
<rect x="364" y="332" width="14.5" height="30" fill="#ff0000"/>
<rect x="360" y="402.7" width="22" height="17" fill="#ff0000"/>
</g>
<g id="outl">
<rect x="446.0" y="-3.0" width="45.0" height="26.5" rx="3" fill="none" stroke="#1f8f2c" stroke-width="4"/>
<polyline points="511.3,132 511.3,82 515,78.4 567.5,78.4 571.3,82 571.3,132" fill="none" stroke="#1f8f2c" stroke-width="3.8" stroke-linecap="butt" stroke-linejoin="round"/>
<polyline points="509.5,87.2 573,87.2" fill="none" stroke="#1f8f2c" stroke-width="6.4" stroke-linecap="butt" stroke-linejoin="round"/>
<polyline points="510.3,169 510.3,216.29999999999998 571.2,216.29999999999998 571.2,169" fill="none" stroke="#1f8f2c" stroke-width="2.6" stroke-linecap="butt" stroke-linejoin="round"/>
<polyline points="622,136.75 587.75,136.75 587.75,92.25 622,92.25" fill="none" stroke="#1f8f2c" stroke-width="4.5" stroke-linecap="butt" stroke-linejoin="round"/>
<polyline points="648,92.25 682.75,92.25 682.75,137.25 648,137.25" fill="none" stroke="#1f8f2c" stroke-width="4.5" stroke-linecap="butt" stroke-linejoin="round"/>
<polyline points="698.3,89.5 698.3,59.099999999999994 737.1,59.099999999999994 737.1,89.5" fill="none" stroke="#1f8f2c" stroke-width="5.6" stroke-linecap="butt" stroke-linejoin="round"/>
<polyline points="698.3,101 698.3,130.89999999999998 737.1,130.89999999999998 737.1,101" fill="none" stroke="#1f8f2c" stroke-width="5.6" stroke-linecap="butt" stroke-linejoin="round"/>
<polyline points="749.4,98 749.4,134 758,143.2 797,143.2 806.2,134 806.2,98" fill="none" stroke="#1f8f2c" stroke-width="4.5" stroke-linecap="butt" stroke-linejoin="round"/>
<polyline points="749.7,79 749.7,31.7 806.3,31.7 806.3,79" fill="none" stroke="#1f8f2c" stroke-width="3.4" stroke-linecap="butt" stroke-linejoin="round"/>
<polyline points="893.95,78.7 893.95,31.25 951.4499999999999,31.25 951.4499999999999,78.7" fill="none" stroke="#1f8f2c" stroke-width="3.9" stroke-linecap="butt" stroke-linejoin="round"/>
<polyline points="894.9,98 894.9,133 905,143 943,143 950.4,135 950.4,98" fill="none" stroke="#1f8f2c" stroke-width="4.2" stroke-linecap="butt" stroke-linejoin="round"/>
<polyline points="1027.5,124 1027.5,93.5 1064.4,93.5 1064.4,124" fill="none" stroke="#1f8f2c" stroke-width="6" stroke-linecap="butt" stroke-linejoin="round"/>
<polyline points="1027.5,133 1027.5,163.5 1064.4,163.5 1064.4,133" fill="none" stroke="#1f8f2c" stroke-width="6" stroke-linecap="butt" stroke-linejoin="round"/>
<polyline points="1148,111.5 1118.7,111.5 1118.7,76.0 1148,76.0" fill="none" stroke="#1f8f2c" stroke-width="6" stroke-linecap="butt" stroke-linejoin="round"/>
<polyline points="1161,76.0 1189.6,76.0 1189.6,111.8 1161,111.8" fill="none" stroke="#1f8f2c" stroke-width="6" stroke-linecap="butt" stroke-linejoin="round"/>
<polyline points="1148,204.8 1118.7,204.8 1118.7,168.7 1148,168.7" fill="none" stroke="#1f8f2c" stroke-width="6" stroke-linecap="butt" stroke-linejoin="round"/>
<polyline points="1161,168.7 1189.6,168.7 1189.6,204.8 1161,204.8" fill="none" stroke="#1f8f2c" stroke-width="6" stroke-linecap="butt" stroke-linejoin="round"/>
<polyline points="1102.5,275 1102.5,243.8 1139.6,243.8 1139.6,275" fill="none" stroke="#1f8f2c" stroke-width="6" stroke-linecap="butt" stroke-linejoin="round"/>
<polyline points="1102.5,283 1102.5,315.0 1139.6,315.0 1139.6,283" fill="none" stroke="#1f8f2c" stroke-width="6" stroke-linecap="butt" stroke-linejoin="round"/>
<polyline points="1154.5,275 1154.5,243.0 1191.6,243.0 1191.6,275" fill="none" stroke="#1f8f2c" stroke-width="6" stroke-linecap="butt" stroke-linejoin="round"/>
<polyline points="1154.5,283 1154.5,313.5 1191.6,313.5 1191.6,283" fill="none" stroke="#1f8f2c" stroke-width="6" stroke-linecap="butt" stroke-linejoin="round"/>
<polyline points="931.65,271 931.65,239.95 968.25,239.95 968.25,271" fill="none" stroke="#1f8f2c" stroke-width="6.5" stroke-linecap="butt" stroke-linejoin="round"/>
<polyline points="931.65,279 931.65,310.25 968.25,310.25 968.25,279" fill="none" stroke="#1f8f2c" stroke-width="6.5" stroke-linecap="butt" stroke-linejoin="round"/>
<polyline points="931.4,358 931.4,325.5 968.5,325.5 968.5,358" fill="none" stroke="#1f8f2c" stroke-width="6" stroke-linecap="butt" stroke-linejoin="round"/>
<polyline points="931.4,365.5 931.4,397.0 968.5,397.0 968.5,365.5" fill="none" stroke="#1f8f2c" stroke-width="6" stroke-linecap="butt" stroke-linejoin="round"/>
<polyline points="881.4,359 881.4,327.2 918.4,327.2 918.4,359" fill="none" stroke="#1f8f2c" stroke-width="6" stroke-linecap="butt" stroke-linejoin="round"/>
<polyline points="881.4,366.5 881.4,398.0 918.4,398.0 918.4,366.5" fill="none" stroke="#1f8f2c" stroke-width="6" stroke-linecap="butt" stroke-linejoin="round"/>
<polyline points="984.7,355 984.7,319.5 1028,319.5 1028,355" fill="none" stroke="#1f8f2c" stroke-width="4" stroke-linecap="butt" stroke-linejoin="round"/>
<polyline points="1041.5,356 1041.5,321.3 1085,321.3 1085,356" fill="none" stroke="#1f8f2c" stroke-width="4" stroke-linecap="butt" stroke-linejoin="round"/>
<polyline points="1102.5,357 1102.5,325.3 1139.6,325.3 1139.6,357" fill="none" stroke="#1f8f2c" stroke-width="6" stroke-linecap="butt" stroke-linejoin="round"/>
<polyline points="1102.5,364.5 1102.5,396.2 1139.6,396.2 1139.6,364.5" fill="none" stroke="#1f8f2c" stroke-width="6" stroke-linecap="butt" stroke-linejoin="round"/>
<polyline points="984.6,388 984.6,420 993,428 1019.5,428 1028,420 1028,388" fill="none" stroke="#1f8f2c" stroke-width="4" stroke-linecap="butt" stroke-linejoin="round"/>
<polyline points="1041.7,388 1041.7,421 1050,429.7 1076,429.7 1084.8,421 1084.8,388" fill="none" stroke="#1f8f2c" stroke-width="4" stroke-linecap="butt" stroke-linejoin="round"/>
<polyline points="987.7,478 987.7,446.4 1024.6,446.4 1024.6,478" fill="none" stroke="#1f8f2c" stroke-width="6" stroke-linecap="butt" stroke-linejoin="round"/>
<polyline points="987.7,486.5 987.7,518.0 1024.6,518.0 1024.6,486.5" fill="none" stroke="#1f8f2c" stroke-width="6" stroke-linecap="butt" stroke-linejoin="round"/>
<polyline points="1100.0,478 1100.0,446.7 1136.5,446.7 1136.5,478" fill="none" stroke="#1f8f2c" stroke-width="6" stroke-linecap="butt" stroke-linejoin="round"/>
<polyline points="1100.0,486.5 1100.0,518.0 1136.5,518.0 1136.5,486.5" fill="none" stroke="#1f8f2c" stroke-width="6" stroke-linecap="butt" stroke-linejoin="round"/>
<polyline points="322.5,369 322.5,334.7 366.7,334.7 366.7,369" fill="none" stroke="#1f8f2c" stroke-width="5" stroke-linecap="butt" stroke-linejoin="round"/>
<polyline points="376.8,369 376.8,334.7 419.9,334.7 419.9,369" fill="none" stroke="#1f8f2c" stroke-width="5" stroke-linecap="butt" stroke-linejoin="round"/>
<polyline points="322.5,395 322.5,430.2 366.7,430.2 366.7,395" fill="none" stroke="#1f8f2c" stroke-width="5" stroke-linecap="butt" stroke-linejoin="round"/>
<polyline points="376.8,395 376.8,430.2 419.9,430.2 419.9,395" fill="none" stroke="#1f8f2c" stroke-width="5" stroke-linecap="butt" stroke-linejoin="round"/>
<g transform="translate(637.8,78.5) rotate(0) scale(-0.982,1.117)" font-family="Liberation Sans, sans-serif" font-size="20" fill="#1f8f2c" stroke="#1f8f2c" stroke-width="1.2"><text x="-7.51" y="7.16" text-anchor="middle">R</text><text x="7.51" y="7.16" text-anchor="middle">2</text></g>
<g transform="translate(719,37.5) rotate(90) scale(-0.732,1.257)" font-family="Liberation Sans, sans-serif" font-size="20" fill="#1f8f2c" stroke="#1f8f2c" stroke-width="1.2"><text x="-15.03" y="7.16" text-anchor="middle">C</text><text x="0.00" y="7.16" text-anchor="middle">6</text><text x="15.03" y="7.16" text-anchor="middle">4</text></g>
<g transform="translate(781.5,8.5) rotate(90) scale(-0.732,1.187)" font-family="Liberation Sans, sans-serif" font-size="20" fill="#1f8f2c" stroke="#1f8f2c" stroke-width="1.2"><text x="-15.03" y="7.16" text-anchor="middle">C</text><text x="0.00" y="7.16" text-anchor="middle">6</text><text x="15.03" y="7.16" text-anchor="middle">3</text></g>
<g transform="translate(921.5,7.5) rotate(-90) scale(-0.754,1.117)" font-family="Liberation Sans, sans-serif" font-size="20" fill="#1f8f2c" stroke="#1f8f2c" stroke-width="1.2"><text x="-15.03" y="7.16" text-anchor="middle">C</text><text x="0.00" y="7.16" text-anchor="middle">6</text><text x="15.03" y="7.16" text-anchor="middle">5</text></g>
<g transform="translate(1083,138.5) rotate(-90) scale(-0.677,1.117)" font-family="Liberation Sans, sans-serif" font-size="20" fill="#1f8f2c" stroke="#1f8f2c" stroke-width="1.2"><text x="-15.03" y="7.16" text-anchor="middle">R</text><text x="0.00" y="7.16" text-anchor="middle">9</text><text x="15.03" y="7.16" text-anchor="middle">1</text></g>
<g transform="translate(1088.4,190) rotate(0) scale(-0.732,1.117)" font-family="Liberation Sans, sans-serif" font-size="20" fill="#1f8f2c" stroke="#1f8f2c" stroke-width="1.2"><text x="-15.03" y="7.16" text-anchor="middle">C</text><text x="0.00" y="7.16" text-anchor="middle">8</text><text x="15.03" y="7.16" text-anchor="middle">1</text></g>
<g transform="translate(1118.5,226.5) rotate(0) scale(-0.682,1.117)" font-family="Liberation Sans, sans-serif" font-size="20" fill="#1f8f2c" stroke="#1f8f2c" stroke-width="1.2"><text x="-22.54" y="7.16" text-anchor="middle">R</text><text x="-7.51" y="7.16" text-anchor="middle">1</text><text x="7.51" y="7.16" text-anchor="middle">0</text><text x="22.54" y="7.16" text-anchor="middle">0</text></g>
<g transform="translate(1175.5,226.5) rotate(0) scale(-0.682,1.117)" font-family="Liberation Sans, sans-serif" font-size="20" fill="#1f8f2c" stroke="#1f8f2c" stroke-width="1.2"><text x="-22.54" y="7.16" text-anchor="middle">R</text><text x="-7.51" y="7.16" text-anchor="middle">1</text><text x="7.51" y="7.16" text-anchor="middle">0</text><text x="22.54" y="7.16" text-anchor="middle">4</text></g>
<g transform="translate(954.5,218.5) rotate(90) scale(-0.710,1.117)" font-family="Liberation Sans, sans-serif" font-size="20" fill="#1f8f2c" stroke="#1f8f2c" stroke-width="1.2"><text x="-15.03" y="7.16" text-anchor="middle">R</text><text x="0.00" y="7.16" text-anchor="middle">9</text><text x="15.03" y="7.16" text-anchor="middle">8</text></g>
<g transform="translate(1010,299.7) rotate(90) scale(-0.654,1.117)" font-family="Liberation Sans, sans-serif" font-size="20" fill="#1f8f2c" stroke="#1f8f2c" stroke-width="1.2"><text x="-15.03" y="7.16" text-anchor="middle">D</text><text x="0.00" y="7.16" text-anchor="middle">1</text><text x="15.03" y="7.16" text-anchor="middle">7</text></g>
<g transform="translate(1065,297.6) rotate(90) scale(-0.621,1.187)" font-family="Liberation Sans, sans-serif" font-size="20" fill="#1f8f2c" stroke="#1f8f2c" stroke-width="1.2"><text x="-15.03" y="7.16" text-anchor="middle">D</text><text x="0.00" y="7.16" text-anchor="middle">1</text><text x="15.03" y="7.16" text-anchor="middle">6</text></g>
<g transform="translate(898,418) rotate(90) scale(-0.721,1.047)" font-family="Liberation Sans, sans-serif" font-size="20" fill="#1f8f2c" stroke="#1f8f2c" stroke-width="1.2"><text x="-15.03" y="7.16" text-anchor="middle">R</text><text x="0.00" y="7.16" text-anchor="middle">9</text><text x="15.03" y="7.16" text-anchor="middle">6</text></g>
<g transform="translate(950.5,418) rotate(90) scale(-0.665,1.047)" font-family="Liberation Sans, sans-serif" font-size="20" fill="#1f8f2c" stroke="#1f8f2c" stroke-width="1.2"><text x="-15.03" y="7.16" text-anchor="middle">R</text><text x="0.00" y="7.16" text-anchor="middle">9</text><text x="15.03" y="7.16" text-anchor="middle">9</text></g>
<g transform="translate(1122.4,420) rotate(90) scale(-0.887,1.117)" font-family="Liberation Sans, sans-serif" font-size="20" fill="#1f8f2c" stroke="#1f8f2c" stroke-width="1.2"><text x="-15.03" y="7.16" text-anchor="middle">R</text><text x="0.00" y="7.16" text-anchor="middle">9</text><text x="15.03" y="7.16" text-anchor="middle">5</text></g>
<g transform="translate(1006.5,546) rotate(90) scale(-0.665,1.327)" font-family="Liberation Sans, sans-serif" font-size="20" fill="#1f8f2c" stroke="#1f8f2c" stroke-width="1.2"><text x="-22.54" y="7.16" text-anchor="middle">R</text><text x="-7.51" y="7.16" text-anchor="middle">1</text><text x="7.51" y="7.16" text-anchor="middle">0</text><text x="22.54" y="7.16" text-anchor="middle">3</text></g>
<g transform="translate(1123,541) rotate(90) scale(-0.732,1.257)" font-family="Liberation Sans, sans-serif" font-size="20" fill="#1f8f2c" stroke="#1f8f2c" stroke-width="1.2"><text x="-15.03" y="7.16" text-anchor="middle">C</text><text x="0.00" y="7.16" text-anchor="middle">6</text><text x="15.03" y="7.16" text-anchor="middle">2</text></g>
<g transform="translate(335.5,449.5) rotate(90) scale(-0.621,1.257)" font-family="Liberation Sans, sans-serif" font-size="20" fill="#1f8f2c" stroke="#1f8f2c" stroke-width="1.2"><text x="-15.03" y="7.16" text-anchor="middle">L</text><text x="0.00" y="7.16" text-anchor="middle">1</text><text x="15.03" y="7.16" text-anchor="middle">6</text></g>
<g transform="translate(396.5,449.5) rotate(90) scale(-0.621,1.257)" font-family="Liberation Sans, sans-serif" font-size="20" fill="#1f8f2c" stroke="#1f8f2c" stroke-width="1.2"><text x="-15.03" y="7.16" text-anchor="middle">L</text><text x="0.00" y="7.16" text-anchor="middle">1</text><text x="15.03" y="7.16" text-anchor="middle">5</text></g>
<g mask="url(#mk)">
<rect x="446.0" y="-3.0" width="45.0" height="26.5" rx="3" fill="none" stroke="#ffa050" stroke-width="4"/>
<polyline points="511.3,132 511.3,82 515,78.4 567.5,78.4 571.3,82 571.3,132" fill="none" stroke="#ffa050" stroke-width="3.8" stroke-linecap="butt" stroke-linejoin="round"/>
<polyline points="509.5,87.2 573,87.2" fill="none" stroke="#ffa050" stroke-width="6.4" stroke-linecap="butt" stroke-linejoin="round"/>
<polyline points="510.3,169 510.3,216.29999999999998 571.2,216.29999999999998 571.2,169" fill="none" stroke="#ffa050" stroke-width="2.6" stroke-linecap="butt" stroke-linejoin="round"/>
<polyline points="622,136.75 587.75,136.75 587.75,92.25 622,92.25" fill="none" stroke="#ffa050" stroke-width="4.5" stroke-linecap="butt" stroke-linejoin="round"/>
<polyline points="648,92.25 682.75,92.25 682.75,137.25 648,137.25" fill="none" stroke="#ffa050" stroke-width="4.5" stroke-linecap="butt" stroke-linejoin="round"/>
<polyline points="698.3,89.5 698.3,59.099999999999994 737.1,59.099999999999994 737.1,89.5" fill="none" stroke="#ffa050" stroke-width="5.6" stroke-linecap="butt" stroke-linejoin="round"/>
<polyline points="698.3,101 698.3,130.89999999999998 737.1,130.89999999999998 737.1,101" fill="none" stroke="#ffa050" stroke-width="5.6" stroke-linecap="butt" stroke-linejoin="round"/>
<polyline points="749.4,98 749.4,134 758,143.2 797,143.2 806.2,134 806.2,98" fill="none" stroke="#ffa050" stroke-width="4.5" stroke-linecap="butt" stroke-linejoin="round"/>
<polyline points="749.7,79 749.7,31.7 806.3,31.7 806.3,79" fill="none" stroke="#ffa050" stroke-width="3.4" stroke-linecap="butt" stroke-linejoin="round"/>
<polyline points="893.95,78.7 893.95,31.25 951.4499999999999,31.25 951.4499999999999,78.7" fill="none" stroke="#ffa050" stroke-width="3.9" stroke-linecap="butt" stroke-linejoin="round"/>
<polyline points="894.9,98 894.9,133 905,143 943,143 950.4,135 950.4,98" fill="none" stroke="#ffa050" stroke-width="4.2" stroke-linecap="butt" stroke-linejoin="round"/>
<polyline points="1027.5,124 1027.5,93.5 1064.4,93.5 1064.4,124" fill="none" stroke="#ffa050" stroke-width="6" stroke-linecap="butt" stroke-linejoin="round"/>
<polyline points="1027.5,133 1027.5,163.5 1064.4,163.5 1064.4,133" fill="none" stroke="#ffa050" stroke-width="6" stroke-linecap="butt" stroke-linejoin="round"/>
<polyline points="1148,111.5 1118.7,111.5 1118.7,76.0 1148,76.0" fill="none" stroke="#ffa050" stroke-width="6" stroke-linecap="butt" stroke-linejoin="round"/>
<polyline points="1161,76.0 1189.6,76.0 1189.6,111.8 1161,111.8" fill="none" stroke="#ffa050" stroke-width="6" stroke-linecap="butt" stroke-linejoin="round"/>
<polyline points="1148,204.8 1118.7,204.8 1118.7,168.7 1148,168.7" fill="none" stroke="#ffa050" stroke-width="6" stroke-linecap="butt" stroke-linejoin="round"/>
<polyline points="1161,168.7 1189.6,168.7 1189.6,204.8 1161,204.8" fill="none" stroke="#ffa050" stroke-width="6" stroke-linecap="butt" stroke-linejoin="round"/>
<polyline points="1102.5,275 1102.5,243.8 1139.6,243.8 1139.6,275" fill="none" stroke="#ffa050" stroke-width="6" stroke-linecap="butt" stroke-linejoin="round"/>
<polyline points="1102.5,283 1102.5,315.0 1139.6,315.0 1139.6,283" fill="none" stroke="#ffa050" stroke-width="6" stroke-linecap="butt" stroke-linejoin="round"/>
<polyline points="1154.5,275 1154.5,243.0 1191.6,243.0 1191.6,275" fill="none" stroke="#ffa050" stroke-width="6" stroke-linecap="butt" stroke-linejoin="round"/>
<polyline points="1154.5,283 1154.5,313.5 1191.6,313.5 1191.6,283" fill="none" stroke="#ffa050" stroke-width="6" stroke-linecap="butt" stroke-linejoin="round"/>
<polyline points="931.65,271 931.65,239.95 968.25,239.95 968.25,271" fill="none" stroke="#ffa050" stroke-width="6.5" stroke-linecap="butt" stroke-linejoin="round"/>
<polyline points="931.65,279 931.65,310.25 968.25,310.25 968.25,279" fill="none" stroke="#ffa050" stroke-width="6.5" stroke-linecap="butt" stroke-linejoin="round"/>
<polyline points="931.4,358 931.4,325.5 968.5,325.5 968.5,358" fill="none" stroke="#ffa050" stroke-width="6" stroke-linecap="butt" stroke-linejoin="round"/>
<polyline points="931.4,365.5 931.4,397.0 968.5,397.0 968.5,365.5" fill="none" stroke="#ffa050" stroke-width="6" stroke-linecap="butt" stroke-linejoin="round"/>
<polyline points="881.4,359 881.4,327.2 918.4,327.2 918.4,359" fill="none" stroke="#ffa050" stroke-width="6" stroke-linecap="butt" stroke-linejoin="round"/>
<polyline points="881.4,366.5 881.4,398.0 918.4,398.0 918.4,366.5" fill="none" stroke="#ffa050" stroke-width="6" stroke-linecap="butt" stroke-linejoin="round"/>
<polyline points="984.7,355 984.7,319.5 1028,319.5 1028,355" fill="none" stroke="#ffa050" stroke-width="4" stroke-linecap="butt" stroke-linejoin="round"/>
<polyline points="1041.5,356 1041.5,321.3 1085,321.3 1085,356" fill="none" stroke="#ffa050" stroke-width="4" stroke-linecap="butt" stroke-linejoin="round"/>
<polyline points="1102.5,357 1102.5,325.3 1139.6,325.3 1139.6,357" fill="none" stroke="#ffa050" stroke-width="6" stroke-linecap="butt" stroke-linejoin="round"/>
<polyline points="1102.5,364.5 1102.5,396.2 1139.6,396.2 1139.6,364.5" fill="none" stroke="#ffa050" stroke-width="6" stroke-linecap="butt" stroke-linejoin="round"/>
<polyline points="984.6,388 984.6,420 993,428 1019.5,428 1028,420 1028,388" fill="none" stroke="#ffa050" stroke-width="4" stroke-linecap="butt" stroke-linejoin="round"/>
<polyline points="1041.7,388 1041.7,421 1050,429.7 1076,429.7 1084.8,421 1084.8,388" fill="none" stroke="#ffa050" stroke-width="4" stroke-linecap="butt" stroke-linejoin="round"/>
<polyline points="987.7,478 987.7,446.4 1024.6,446.4 1024.6,478" fill="none" stroke="#ffa050" stroke-width="6" stroke-linecap="butt" stroke-linejoin="round"/>
<polyline points="987.7,486.5 987.7,518.0 1024.6,518.0 1024.6,486.5" fill="none" stroke="#ffa050" stroke-width="6" stroke-linecap="butt" stroke-linejoin="round"/>
<polyline points="1100.0,478 1100.0,446.7 1136.5,446.7 1136.5,478" fill="none" stroke="#ffa050" stroke-width="6" stroke-linecap="butt" stroke-linejoin="round"/>
<polyline points="1100.0,486.5 1100.0,518.0 1136.5,518.0 1136.5,486.5" fill="none" stroke="#ffa050" stroke-width="6" stroke-linecap="butt" stroke-linejoin="round"/>
<polyline points="322.5,369 322.5,334.7 366.7,334.7 366.7,369" fill="none" stroke="#ffa050" stroke-width="5" stroke-linecap="butt" stroke-linejoin="round"/>
<polyline points="376.8,369 376.8,334.7 419.9,334.7 419.9,369" fill="none" stroke="#ffa050" stroke-width="5" stroke-linecap="butt" stroke-linejoin="round"/>
<polyline points="322.5,395 322.5,430.2 366.7,430.2 366.7,395" fill="none" stroke="#ffa050" stroke-width="5" stroke-linecap="butt" stroke-linejoin="round"/>
<polyline points="376.8,395 376.8,430.2 419.9,430.2 419.9,395" fill="none" stroke="#ffa050" stroke-width="5" stroke-linecap="butt" stroke-linejoin="round"/>
<g transform="translate(637.8,78.5) rotate(0) scale(-0.982,1.117)" font-family="Liberation Sans, sans-serif" font-size="20" fill="#ffa050" stroke="#ffa050" stroke-width="1.2"><text x="-7.51" y="7.16" text-anchor="middle">R</text><text x="7.51" y="7.16" text-anchor="middle">2</text></g>
<g transform="translate(719,37.5) rotate(90) scale(-0.732,1.257)" font-family="Liberation Sans, sans-serif" font-size="20" fill="#ffa050" stroke="#ffa050" stroke-width="1.2"><text x="-15.03" y="7.16" text-anchor="middle">C</text><text x="0.00" y="7.16" text-anchor="middle">6</text><text x="15.03" y="7.16" text-anchor="middle">4</text></g>
<g transform="translate(781.5,8.5) rotate(90) scale(-0.732,1.187)" font-family="Liberation Sans, sans-serif" font-size="20" fill="#ffa050" stroke="#ffa050" stroke-width="1.2"><text x="-15.03" y="7.16" text-anchor="middle">C</text><text x="0.00" y="7.16" text-anchor="middle">6</text><text x="15.03" y="7.16" text-anchor="middle">3</text></g>
<g transform="translate(921.5,7.5) rotate(-90) scale(-0.754,1.117)" font-family="Liberation Sans, sans-serif" font-size="20" fill="#ffa050" stroke="#ffa050" stroke-width="1.2"><text x="-15.03" y="7.16" text-anchor="middle">C</text><text x="0.00" y="7.16" text-anchor="middle">6</text><text x="15.03" y="7.16" text-anchor="middle">5</text></g>
<g transform="translate(1083,138.5) rotate(-90) scale(-0.677,1.117)" font-family="Liberation Sans, sans-serif" font-size="20" fill="#ffa050" stroke="#ffa050" stroke-width="1.2"><text x="-15.03" y="7.16" text-anchor="middle">R</text><text x="0.00" y="7.16" text-anchor="middle">9</text><text x="15.03" y="7.16" text-anchor="middle">1</text></g>
<g transform="translate(1088.4,190) rotate(0) scale(-0.732,1.117)" font-family="Liberation Sans, sans-serif" font-size="20" fill="#ffa050" stroke="#ffa050" stroke-width="1.2"><text x="-15.03" y="7.16" text-anchor="middle">C</text><text x="0.00" y="7.16" text-anchor="middle">8</text><text x="15.03" y="7.16" text-anchor="middle">1</text></g>
<g transform="translate(1118.5,226.5) rotate(0) scale(-0.682,1.117)" font-family="Liberation Sans, sans-serif" font-size="20" fill="#ffa050" stroke="#ffa050" stroke-width="1.2"><text x="-22.54" y="7.16" text-anchor="middle">R</text><text x="-7.51" y="7.16" text-anchor="middle">1</text><text x="7.51" y="7.16" text-anchor="middle">0</text><text x="22.54" y="7.16" text-anchor="middle">0</text></g>
<g transform="translate(1175.5,226.5) rotate(0) scale(-0.682,1.117)" font-family="Liberation Sans, sans-serif" font-size="20" fill="#ffa050" stroke="#ffa050" stroke-width="1.2"><text x="-22.54" y="7.16" text-anchor="middle">R</text><text x="-7.51" y="7.16" text-anchor="middle">1</text><text x="7.51" y="7.16" text-anchor="middle">0</text><text x="22.54" y="7.16" text-anchor="middle">4</text></g>
<g transform="translate(954.5,218.5) rotate(90) scale(-0.710,1.117)" font-family="Liberation Sans, sans-serif" font-size="20" fill="#ffa050" stroke="#ffa050" stroke-width="1.2"><text x="-15.03" y="7.16" text-anchor="middle">R</text><text x="0.00" y="7.16" text-anchor="middle">9</text><text x="15.03" y="7.16" text-anchor="middle">8</text></g>
<g transform="translate(1010,299.7) rotate(90) scale(-0.654,1.117)" font-family="Liberation Sans, sans-serif" font-size="20" fill="#ffa050" stroke="#ffa050" stroke-width="1.2"><text x="-15.03" y="7.16" text-anchor="middle">D</text><text x="0.00" y="7.16" text-anchor="middle">1</text><text x="15.03" y="7.16" text-anchor="middle">7</text></g>
<g transform="translate(1065,297.6) rotate(90) scale(-0.621,1.187)" font-family="Liberation Sans, sans-serif" font-size="20" fill="#ffa050" stroke="#ffa050" stroke-width="1.2"><text x="-15.03" y="7.16" text-anchor="middle">D</text><text x="0.00" y="7.16" text-anchor="middle">1</text><text x="15.03" y="7.16" text-anchor="middle">6</text></g>
<g transform="translate(898,418) rotate(90) scale(-0.721,1.047)" font-family="Liberation Sans, sans-serif" font-size="20" fill="#ffa050" stroke="#ffa050" stroke-width="1.2"><text x="-15.03" y="7.16" text-anchor="middle">R</text><text x="0.00" y="7.16" text-anchor="middle">9</text><text x="15.03" y="7.16" text-anchor="middle">6</text></g>
<g transform="translate(950.5,418) rotate(90) scale(-0.665,1.047)" font-family="Liberation Sans, sans-serif" font-size="20" fill="#ffa050" stroke="#ffa050" stroke-width="1.2"><text x="-15.03" y="7.16" text-anchor="middle">R</text><text x="0.00" y="7.16" text-anchor="middle">9</text><text x="15.03" y="7.16" text-anchor="middle">9</text></g>
<g transform="translate(1122.4,420) rotate(90) scale(-0.887,1.117)" font-family="Liberation Sans, sans-serif" font-size="20" fill="#ffa050" stroke="#ffa050" stroke-width="1.2"><text x="-15.03" y="7.16" text-anchor="middle">R</text><text x="0.00" y="7.16" text-anchor="middle">9</text><text x="15.03" y="7.16" text-anchor="middle">5</text></g>
<g transform="translate(1006.5,546) rotate(90) scale(-0.665,1.327)" font-family="Liberation Sans, sans-serif" font-size="20" fill="#ffa050" stroke="#ffa050" stroke-width="1.2"><text x="-22.54" y="7.16" text-anchor="middle">R</text><text x="-7.51" y="7.16" text-anchor="middle">1</text><text x="7.51" y="7.16" text-anchor="middle">0</text><text x="22.54" y="7.16" text-anchor="middle">3</text></g>
<g transform="translate(1123,541) rotate(90) scale(-0.732,1.257)" font-family="Liberation Sans, sans-serif" font-size="20" fill="#ffa050" stroke="#ffa050" stroke-width="1.2"><text x="-15.03" y="7.16" text-anchor="middle">C</text><text x="0.00" y="7.16" text-anchor="middle">6</text><text x="15.03" y="7.16" text-anchor="middle">2</text></g>
<g transform="translate(335.5,449.5) rotate(90) scale(-0.621,1.257)" font-family="Liberation Sans, sans-serif" font-size="20" fill="#ffa050" stroke="#ffa050" stroke-width="1.2"><text x="-15.03" y="7.16" text-anchor="middle">L</text><text x="0.00" y="7.16" text-anchor="middle">1</text><text x="15.03" y="7.16" text-anchor="middle">6</text></g>
<g transform="translate(396.5,449.5) rotate(90) scale(-0.621,1.257)" font-family="Liberation Sans, sans-serif" font-size="20" fill="#ffa050" stroke="#ffa050" stroke-width="1.2"><text x="-15.03" y="7.16" text-anchor="middle">L</text><text x="0.00" y="7.16" text-anchor="middle">1</text><text x="15.03" y="7.16" text-anchor="middle">5</text></g>
</g>
</g>
<g id="pads">
<circle cx="362.3" cy="7.5" r="18" fill="#4a9418" />
<circle cx="362.3" cy="7.5" r="17" fill="#bc9804" />
<circle cx="362.3" cy="7.5" r="11" fill="#c0c0ff" />
<circle cx="408.5" cy="88.5" r="17.5" fill="#4a9418" />
<circle cx="408.5" cy="88.5" r="16" fill="#bc9804" />
<circle cx="408.5" cy="88.5" r="8.5" fill="#c0c0ff" />
<circle cx="301" cy="182.6" r="52.7" fill="#4a9418" />
<circle cx="301" cy="182.6" r="51.5" fill="#bc9804" />
<circle cx="301" cy="182.6" r="34.3" fill="#c0c0ff" />
<circle cx="685" cy="187.2" r="25.8" fill="#4a9418" />
<circle cx="685" cy="187.2" r="24.6" fill="#bc9804" />
<circle cx="685" cy="187.2" r="13.4" fill="#c0c0ff" />
<circle cx="685" cy="299" r="25.8" fill="#4a9418" />
<circle cx="685" cy="299" r="24.6" fill="#bc9804" />
<circle cx="685" cy="299" r="13.2" fill="#c0c0ff" />
<circle cx="469.1" cy="89" r="17" fill="#4a9418" />
<circle cx="469.1" cy="89" r="15.8" fill="#bc9804" />
<circle cx="469.1" cy="89" r="8.2" fill="#c0c0ff" />
<circle cx="829.5" cy="117" r="17" fill="#4a9418" />
<circle cx="829.5" cy="117" r="16" fill="#bc9804" />
<circle cx="829.5" cy="117" r="10.5" fill="#c0c0ff" />
<circle cx="801.3" cy="593.9" r="19" fill="#4a9418" />
<circle cx="801.3" cy="593.9" r="17.9" fill="#bc9804" />
<circle cx="801.3" cy="593.9" r="9.2" fill="#c0c0ff" />
<circle cx="236.7" cy="407.8" r="27.3" fill="#4a9418" />
<circle cx="236.7" cy="407.8" r="26.2" fill="#bc9804" />
<circle cx="236.7" cy="407.8" r="18.3" fill="#c0c0ff" />
<circle cx="236.7" cy="492" r="27.3" fill="#4a9418" />
<circle cx="236.7" cy="492" r="26.2" fill="#bc9804" />
<circle cx="236.7" cy="492" r="18.3" fill="#c0c0ff" />
<circle cx="236.7" cy="579.8" r="27.3" fill="#4a9418" />
<circle cx="236.7" cy="579.8" r="26.2" fill="#bc9804" />
<circle cx="236.7" cy="579.8" r="18.3" fill="#c0c0ff" />
<ellipse cx="416.2" cy="535.7" rx="16.8" ry="21.2" fill="#4a9418"/>
<ellipse cx="416.2" cy="535.7" rx="15.8" ry="20.2" fill="#bc9804"/>
<circle cx="416.2" cy="535.7" r="7.7" fill="#c0c0ff" />
<circle cx="1135.2" cy="130.2" r="9.6" fill="#4a9418" />
<circle cx="1135.2" cy="130.2" r="8.7" fill="#bc9804" />
<circle cx="1135.2" cy="130.2" r="6.2" fill="#c0c0ff" />
<circle cx="1135.2" cy="150" r="9.6" fill="#4a9418" />
<circle cx="1135.2" cy="150" r="8.7" fill="#bc9804" />
<circle cx="1135.2" cy="150" r="6.2" fill="#c0c0ff" />
<circle cx="463.2" cy="463.2" r="16.5" fill="#bc9804" />
<circle cx="449.6" cy="488.5" r="16.7" fill="#bc9804" />
<circle cx="463.3" cy="464.4" r="7.6" fill="#c0c0ff" />
<circle cx="449.4" cy="486" r="7.7" fill="#c0c0ff" />
<rect x="208.6" y="291.40000000000003" width="56.40000000000002" height="56.60000000000001" rx="0" fill="#4a9418" />
<rect x="210" y="292.8" width="53.60000000000002" height="53.80000000000001" rx="0" fill="#bc9804" />
<circle cx="237" cy="321" r="18" fill="#c0c0ff" />
<rect x="446.79999999999995" y="-2.2" width="42.4" height="23.4" rx="0" fill="#000000" />
<rect x="447.9" y="-1.1" width="40.2" height="21.2" rx="0" fill="#4a9418" />
<rect x="449" y="0" width="38" height="19" rx="0" fill="#bc9804" />
<rect x="517.5999999999999" y="96.5" width="47.30000000000009" height="36.50000000000001" rx="0" fill="#4a9418" />
<rect x="518.8" y="97.7" width="44.90000000000009" height="34.10000000000001" rx="0" fill="#bc9804" />
<rect x="516.5" y="171.5" width="50.0" height="38.0" rx="0" fill="#4a9418" />
<rect x="518" y="173" width="47" height="35" rx="0" fill="#bc9804" />
<rect x="589.8" y="92.80000000000001" width="32.9" height="42.9" rx="0" fill="#000000" />
<rect x="590.9" y="93.9" width="30.7" height="40.7" rx="0" fill="#4a9418" />
<rect x="592" y="95" width="28.5" height="38.5" rx="0" fill="#bc9804" />
<rect x="647.8" y="93.30000000000001" width="34.4" height="42.9" rx="0" fill="#000000" />
<rect x="648.9" y="94.4" width="32.2" height="40.7" rx="0" fill="#4a9418" />
<rect x="650" y="95.5" width="30" height="38.5" rx="0" fill="#bc9804" />
<rect x="700.4" y="60.5" width="34.59999999999993" height="29.699999999999996" rx="0" fill="#000000" />
<rect x="701.5" y="61.6" width="32.399999999999935" height="27.499999999999996" rx="0" fill="#4a9418" />
<rect x="702.6" y="62.7" width="30.199999999999932" height="25.299999999999997" rx="0" fill="#bc9804" />
<rect x="700.4" y="100.60000000000001" width="34.59999999999993" height="29.000000000000007" rx="0" fill="#000000" />
<rect x="701.5" y="101.7" width="32.399999999999935" height="26.800000000000008" rx="0" fill="#4a9418" />
<rect x="702.6" y="102.8" width="30.199999999999932" height="24.60000000000001" rx="0" fill="#bc9804" />
<rect x="754.5" y="95.6" width="46.0" height="38.900000000000006" rx="0" fill="#4a9418" />
<rect x="756" y="97.1" width="43" height="35.900000000000006" rx="0" fill="#bc9804" />
<rect x="755.0" y="37.9" width="45.0" height="38.199999999999996" rx="0" fill="#4a9418" />
<rect x="756.5" y="39.4" width="42.0" height="35.199999999999996" rx="0" fill="#bc9804" />
<rect x="900.0" y="37.3" width="46.10000000000002" height="39.10000000000001" rx="0" fill="#4a9418" />
<rect x="901.5" y="38.8" width="43.10000000000002" height="36.10000000000001" rx="0" fill="#bc9804" />
<rect x="900.5" y="95.9" width="45.0" height="39.599999999999994" rx="0" fill="#4a9418" />
<rect x="902" y="97.4" width="42" height="36.599999999999994" rx="0" fill="#bc9804" />
<rect x="1029.2000000000003" y="94.10000000000001" width="33.99999999999991" height="29.1" rx="0" fill="#000000" />
<rect x="1030.3000000000002" y="95.2" width="31.79999999999991" height="26.900000000000002" rx="0" fill="#4a9418" />
<rect x="1031.4" y="96.3" width="29.59999999999991" height="24.700000000000003" rx="0" fill="#bc9804" />
<rect x="1029.2000000000003" y="133.8" width="33.99999999999991" height="28.4" rx="0" fill="#000000" />
<rect x="1030.3000000000002" y="134.9" width="31.79999999999991" height="26.2" rx="0" fill="#4a9418" />
<rect x="1031.4" y="136" width="29.59999999999991" height="24" rx="0" fill="#bc9804" />
<rect x="1119.3000000000002" y="76.80000000000001" width="29.9" height="34.1" rx="0" fill="#000000" />
<rect x="1120.4" y="77.9" width="27.7" height="31.900000000000002" rx="0" fill="#4a9418" />
<rect x="1121.5" y="79" width="25.5" height="29.700000000000003" rx="0" fill="#bc9804" />
<rect x="1160.6000000000001" y="76.80000000000001" width="28.4" height="34.1" rx="0" fill="#000000" />
<rect x="1161.7" y="77.9" width="26.2" height="31.900000000000002" rx="0" fill="#4a9418" />
<rect x="1162.8" y="79" width="24.0" height="29.700000000000003" rx="0" fill="#bc9804" />
<rect x="1120.1000000000001" y="170.10000000000002" width="29.100000000000044" height="32.49999999999999" rx="0" fill="#000000" />
<rect x="1121.2" y="171.20000000000002" width="26.900000000000045" height="30.299999999999994" rx="0" fill="#4a9418" />
<rect x="1122.3" y="172.3" width="24.700000000000045" height="28.099999999999994" rx="0" fill="#bc9804" />
<rect x="1160.6000000000001" y="170.10000000000002" width="28.4" height="32.49999999999999" rx="0" fill="#000000" />
<rect x="1161.7" y="171.20000000000002" width="26.2" height="30.299999999999994" rx="0" fill="#4a9418" />
<rect x="1162.8" y="172.3" width="24.0" height="28.099999999999994" rx="0" fill="#bc9804" />
<rect x="1103.8000000000002" y="245.3" width="34.99999999999991" height="28.9" rx="0" fill="#000000" />
<rect x="1104.9" y="246.4" width="32.79999999999991" height="26.7" rx="0" fill="#4a9418" />
<rect x="1106" y="247.5" width="30.59999999999991" height="24.5" rx="0" fill="#bc9804" />
<rect x="1103.8000000000002" y="283.79999999999995" width="34.99999999999991" height="29.799999999999976" rx="0" fill="#000000" />
<rect x="1104.9" y="284.9" width="32.79999999999991" height="27.599999999999977" rx="0" fill="#4a9418" />
<rect x="1106" y="286" width="30.59999999999991" height="25.399999999999977" rx="0" fill="#bc9804" />
<rect x="1155.8000000000002" y="245.3" width="34.4" height="28.9" rx="0" fill="#000000" />
<rect x="1156.9" y="246.4" width="32.2" height="26.7" rx="0" fill="#4a9418" />
<rect x="1158" y="247.5" width="30" height="24.5" rx="0" fill="#bc9804" />
<rect x="1155.8000000000002" y="283.79999999999995" width="34.4" height="29.799999999999976" rx="0" fill="#000000" />
<rect x="1156.9" y="284.9" width="32.2" height="27.599999999999977" rx="0" fill="#4a9418" />
<rect x="1158" y="286" width="30" height="25.399999999999977" rx="0" fill="#bc9804" />
<rect x="933.8" y="241.20000000000002" width="33.4" height="28.600000000000016" rx="0" fill="#000000" />
<rect x="934.9" y="242.3" width="31.2" height="26.400000000000016" rx="0" fill="#4a9418" />
<rect x="936" y="243.4" width="29" height="24.200000000000017" rx="0" fill="#bc9804" />
<rect x="933.8" y="280.4" width="33.4" height="29.4" rx="0" fill="#000000" />
<rect x="934.9" y="281.5" width="31.2" height="27.2" rx="0" fill="#4a9418" />
<rect x="936" y="282.6" width="29" height="25.0" rx="0" fill="#bc9804" />
<rect x="932.8" y="326.79999999999995" width="34.4" height="30.099999999999987" rx="0" fill="#000000" />
<rect x="933.9" y="327.9" width="32.2" height="27.899999999999988" rx="0" fill="#4a9418" />
<rect x="935" y="329" width="30" height="25.69999999999999" rx="0" fill="#bc9804" />
<rect x="932.8" y="366.19999999999993" width="34.4" height="30.300000000000033" rx="0" fill="#000000" />
<rect x="933.9" y="367.29999999999995" width="32.2" height="28.100000000000033" rx="0" fill="#4a9418" />
<rect x="935" y="368.4" width="30" height="25.900000000000034" rx="0" fill="#bc9804" />
<rect x="882.8" y="327.79999999999995" width="34.4" height="29.4" rx="0" fill="#000000" />
<rect x="883.9" y="328.9" width="32.2" height="27.2" rx="0" fill="#4a9418" />
<rect x="885" y="330" width="30" height="25" rx="0" fill="#bc9804" />
<rect x="882.8" y="367.09999999999997" width="34.4" height="29.4" rx="0" fill="#000000" />
<rect x="883.9" y="368.2" width="32.2" height="27.2" rx="0" fill="#4a9418" />
<rect x="885" y="369.3" width="30" height="25.0" rx="0" fill="#bc9804" />
<rect x="990.5" y="324.5" width="32.0" height="33.0" rx="0" fill="#4a9418" />
<rect x="992" y="326" width="29" height="30" rx="0" fill="#bc9804" />
<rect x="1046.7" y="327.5" width="32.799999999999955" height="31.19999999999999" rx="0" fill="#4a9418" />
<rect x="1048.2" y="329" width="29.799999999999955" height="28.19999999999999" rx="0" fill="#bc9804" />
<rect x="1104.0000000000002" y="325.29999999999995" width="34.19999999999995" height="30.4" rx="0" fill="#000000" />
<rect x="1105.1000000000001" y="326.4" width="31.999999999999954" height="28.2" rx="0" fill="#4a9418" />
<rect x="1106.2" y="327.5" width="29.799999999999955" height="26.0" rx="0" fill="#bc9804" />
<rect x="1104.0000000000002" y="365.4" width="34.19999999999995" height="29.799999999999976" rx="0" fill="#000000" />
<rect x="1105.1000000000001" y="366.5" width="31.999999999999954" height="27.599999999999977" rx="0" fill="#4a9418" />
<rect x="1106.2" y="367.6" width="29.799999999999955" height="25.399999999999977" rx="0" fill="#bc9804" />
<ellipse cx="1006.3" cy="400.4" rx="16.1" ry="17.8" fill="#4a9418"/>
<ellipse cx="1006.3" cy="400.4" rx="14.6" ry="16.3" fill="#bc9804"/>
<ellipse cx="1063" cy="401.7" rx="16.1" ry="18.2" fill="#4a9418"/>
<ellipse cx="1063" cy="401.7" rx="14.6" ry="16.7" fill="#bc9804"/>
<rect x="988.8" y="447.79999999999995" width="34.4" height="29.4" rx="0" fill="#000000" />
<rect x="989.9" y="448.9" width="32.2" height="27.2" rx="0" fill="#4a9418" />
<rect x="991" y="450" width="30" height="25" rx="0" fill="#bc9804" />
<rect x="988.8" y="486.59999999999997" width="34.4" height="29.89999999999994" rx="0" fill="#000000" />
<rect x="989.9" y="487.7" width="32.2" height="27.699999999999942" rx="0" fill="#4a9418" />
<rect x="991" y="488.8" width="30" height="25.499999999999943" rx="0" fill="#bc9804" />
<rect x="1100.5000000000002" y="447.49999999999994" width="34.49999999999991" height="29.70000000000001" rx="0" fill="#000000" />
<rect x="1101.6000000000001" y="448.59999999999997" width="32.29999999999991" height="27.50000000000001" rx="0" fill="#4a9418" />
<rect x="1102.7" y="449.7" width="30.09999999999991" height="25.30000000000001" rx="0" fill="#bc9804" />
<rect x="1100.5000000000002" y="486.59999999999997" width="34.49999999999991" height="29.89999999999994" rx="0" fill="#000000" />
<rect x="1101.6000000000001" y="487.7" width="32.29999999999991" height="27.699999999999942" rx="0" fill="#4a9418" />
<rect x="1102.7" y="488.8" width="30.09999999999991" height="25.499999999999943" rx="0" fill="#bc9804" />
<rect x="323.8" y="336.7" width="41.80000000000001" height="32.10000000000002" rx="0" fill="#4a9418" />
<rect x="325.3" y="338.2" width="38.80000000000001" height="29.100000000000023" rx="0" fill="#bc9804" />
<rect x="377.0" y="336.7" width="41.30000000000001" height="32.10000000000002" rx="0" fill="#4a9418" />
<rect x="378.5" y="338.2" width="38.30000000000001" height="29.100000000000023" rx="0" fill="#bc9804" />
<rect x="323.8" y="394.8" width="41.80000000000001" height="33.89999999999998" rx="0" fill="#4a9418" />
<rect x="325.3" y="396.3" width="38.80000000000001" height="30.899999999999977" rx="0" fill="#bc9804" />
<rect x="377.0" y="394.8" width="41.30000000000001" height="33.89999999999998" rx="0" fill="#4a9418" />
<rect x="378.5" y="396.3" width="38.30000000000001" height="30.899999999999977" rx="0" fill="#bc9804" />
</g>
<g id="top">
<polygon points="227.8,13.8 234.5,4 240,4 236.3,10 266.3,10 262.5,4 272.5,4 275.3,8.5 274,13.8" fill="#1f8f2c"/>
<circle cx="345.2" cy="273.2" r="2.8" fill="#30e090" />
<circle cx="345.2" cy="286" r="2.8" fill="#30e090" />
<circle cx="359" cy="273.2" r="2.8" fill="#30e090" />
<circle cx="359" cy="286" r="2.8" fill="#30e090" />
<circle cx="372.6" cy="273.2" r="2.8" fill="#30e090" />
<circle cx="372.6" cy="286" r="2.8" fill="#30e090" />
<polygon points="357.5,75.0 357.5,65.0 351.5,70.0" fill="#000000"/>
<polygon points="336.5,65.0 336.5,75.0 342.5,70.0" fill="#000000"/>
<polygon points="342.0,80.5 352.0,80.5 347.0,74.5" fill="#000000"/>
<polygon points="352.0,59.5 342.0,59.5 347.0,65.5" fill="#000000"/>
<rect x="344.5" y="67.5" width="5" height="5" rx="0" fill="#30e090" />
<polygon points="645.0,79.6 645.0,69.6 639.0,74.6" fill="#000000"/>
<polygon points="624.0,69.6 624.0,79.6 630.0,74.6" fill="#000000"/>
<polygon points="629.5,85.1 639.5,85.1 634.5,79.1" fill="#000000"/>
<polygon points="639.5,64.1 629.5,64.1 634.5,70.1" fill="#000000"/>
<rect x="632.0" y="72.1" width="5" height="5" rx="0" fill="#30e090" />
<polygon points="1004.1,88.0 1004.1,78.0 998.1,83.0" fill="#000000"/>
<polygon points="983.1,78.0 983.1,88.0 989.1,83.0" fill="#000000"/>
<polygon points="988.6,93.5 998.6,93.5 993.6,87.5" fill="#000000"/>
<polygon points="998.6,72.5 988.6,72.5 993.6,78.5" fill="#000000"/>
<rect x="991.1" y="80.5" width="5" height="5" rx="0" fill="#30e090" />
<polygon points="1038.9,217.5 1038.9,207.5 1032.9,212.5" fill="#000000"/>
<polygon points="1017.9000000000001,207.5 1017.9000000000001,217.5 1023.9000000000001,212.5" fill="#000000"/>
<polygon points="1023.4000000000001,223.0 1033.4,223.0 1028.4,217.0" fill="#000000"/>
<polygon points="1033.4,202.0 1023.4000000000001,202.0 1028.4,208.0" fill="#000000"/>
<rect x="1025.9" y="210.0" width="5" height="5" rx="0" fill="#30e090" />
<polygon points="1052.8,289.3 1052.8,279.3 1046.8,284.3" fill="#000000"/>
<polygon points="1031.8,279.3 1031.8,289.3 1037.8,284.3" fill="#000000"/>
<polygon points="1037.3,294.8 1047.3,294.8 1042.3,288.8" fill="#000000"/>
<polygon points="1047.3,273.8 1037.3,273.8 1042.3,279.8" fill="#000000"/>
<rect x="1039.8" y="281.8" width="5" height="5" rx="0" fill="#30e090" />
<polygon points="1131.5,426.8 1131.5,416.8 1125.5,421.8" fill="#000000"/>
<polygon points="1110.5,416.8 1110.5,426.8 1116.5,421.8" fill="#000000"/>
<polygon points="1116.0,432.3 1126.0,432.3 1121.0,426.3" fill="#000000"/>
<polygon points="1126.0,411.3 1116.0,411.3 1121.0,417.3" fill="#000000"/>
<rect x="1118.5" y="419.3" width="5" height="5" rx="0" fill="#30e090" />
<polygon points="780.5,664.3 780.5,654.3 774.5,659.3" fill="#000000"/>
<polygon points="759.5,654.3 759.5,664.3 765.5,659.3" fill="#000000"/>
<polygon points="765.0,669.8 775.0,669.8 770.0,663.8" fill="#000000"/>
<polygon points="775.0,648.8 765.0,648.8 770.0,654.8" fill="#000000"/>
<rect x="767.5" y="656.8" width="5" height="5" rx="0" fill="#30e090" />
<rect x="969.7" y="106.7" width="4.6" height="4.6" rx="0" fill="#30e090" />
<rect x="1045.3" y="192.0" width="4.6" height="4.6" rx="0" fill="#30e090" />
<rect x="897.7" y="314.9" width="4.6" height="4.6" rx="0" fill="#30e090" />
<rect x="1170.2" y="228.39999999999998" width="4.6" height="4.6" rx="0" fill="#30e090" />
<rect x="1090.1000000000001" y="399.9" width="4.6" height="4.6" rx="0" fill="#30e090" />
<rect x="851.5" y="477.09999999999997" width="4.6" height="4.6" rx="0" fill="#30e090" />
<rect x="696.2" y="388.0" width="4.6" height="4.6" rx="0" fill="#30e090" />
<rect x="774.9000000000001" y="138.0" width="4.6" height="4.6" rx="0" fill="#30e090" />
<circle cx="1203.8" cy="625.5" r="44" fill="none" stroke="#1f8f2c" stroke-width="6.3"/>
<line x1="1170.4" y1="656.6" x2="1198" y2="637" stroke="#1f8f2c" stroke-width="4"/>
<ellipse cx="1186.5" cy="634.5" rx="7.5" ry="11.5" fill="none" stroke="#1f8f2c" stroke-width="3.5"/>
<line x1="1196" y1="609" x2="1196" y2="647" stroke="#1f8f2c" stroke-width="5"/>
<ellipse cx="1131.5" cy="136" rx="31" ry="27" fill="none" stroke="#1410fa" shape-rendering="geometricPrecision" stroke-width="5"/>
<ellipse cx="452.7" cy="474.7" rx="41.5" ry="34" fill="none" stroke="#1410fa" shape-rendering="geometricPrecision" stroke-width="6"/>
<line x1="802.8" y1="323.6" x2="1092" y2="161" stroke="#1410fa" shape-rendering="geometricPrecision" stroke-width="5" stroke-linecap="round"/>
<polygon points="1113,149.5 1085,156 1094.5,169" fill="#1410fa" shape-rendering="geometricPrecision"/>
<line x1="593.5" y1="661" x2="490" y2="520.5" stroke="#1410fa" shape-rendering="geometricPrecision" stroke-width="5.2" stroke-linecap="round"/>
<polygon points="477.8,504.3 499,518.5 485.3,527" fill="#1410fa" shape-rendering="geometricPrecision"/>
</g>
</g>
</svg>
<div class="a" style="left:0px;top:0px;width:157px;height:711px;background:#55ccb0;"></div>
<div class="a" style="left:0px;top:0px;width:1198px;height:3px;background:#e6f2f2;"></div>
<div class="a" style="left:3px;top:0px;width:1021px;height:1px;background:#6a7c7c;"></div>
<div class="a" style="left:1027px;top:0px;width:171px;height:3px;background:#d8f0f0;"></div>
<div class="a" style="left:0px;top:3px;width:1198px;height:1px;background:#101818;"></div>
<div class="a" style="left:1024px;top:0px;width:3px;height:3px;background:#405050;"></div>
<div class="a" style="left:153px;top:4px;width:2px;height:707px;background:#b4f6e8;"></div>
<div class="a" style="left:155px;top:4px;width:2px;height:707px;background:#000;"></div>
<div class="a" style="left:0px;top:708px;width:155px;height:1px;background:#a8e8d8;"></div>
<div class="a" style="left:0px;top:709px;width:155px;height:2px;background:#285a50;"></div>
<div class="a" style="left:3px;top:5px;width:151px;height:40px;background:#1c4c44;"></div>
<div class="a" style="left:4px;top:7px;width:148px;height:17px;background:#9edcdc;"></div>
<div class="a" style="left:4px;top:26px;width:148px;height:17px;background:#9edcdc;"></div>
<div class="t big" style="left:6px;top:10px;">Job : 4g0em00h</div>
<div class="t big" style="left:6px;top:29px;">Step: cam</div>
<div class="a" style="left:3px;top:46px;width:151px;height:27px;background:#1c4c44;"></div>
<div class="a" style="left:4px;top:47px;width:149px;height:25px;background:#55ccb0;"></div>
<div class="a" style="left:6px;top:49px;width:145px;height:21px;background:#d8f4f4;"></div>
<div class="a" style="left:7px;top:50px;width:144px;height:20px;background:#3a8a80;"></div>
<div class="a" style="left:7px;top:50px;width:142px;height:18px;background:#9edcdc;"></div>
<div class="t big" style="left:10px;top:53px;">Job Matrix ...</div>
<div class="a" style="left:0px;top:4px;width:1px;height:707px;background:#000;"></div>
<div class="a" style="left:1px;top:75px;width:5px;height:417px;background:#2f7f6f;"></div>
<div class="a" style="left:1px;top:75px;width:127px;height:5px;background:#2f7f6f;"></div>
<div class="a" style="left:5px;top:79px;width:122px;height:1px;background:#000;"></div>
<div class="a" style="left:5px;top:79px;width:1px;height:410px;background:#000;"></div>
<div class="a" style="left:5px;top:80px;width:121px;height:410px;background:#55ccb0;"></div>
<div class="a" style="left:5px;top:490px;width:122px;height:1px;background:#000;"></div>
<div class="a" style="left:126px;top:80px;width:1px;height:411px;background:#000;"></div>
<div class="a" style="left:127px;top:78px;width:2px;height:415px;background:#b4f6e8;"></div>
<div class="a" style="left:3px;top:491px;width:126px;height:2px;background:#b4f6e8;"></div>
<div class="a" style="left:7px;top:81px;width:117px;height:50px;background:#000;"></div>
<div class="row" style="top:81px"><div class="cb"><i></i></div><div class="lb" style="background:#ffffff"><span>to</span><svg width="8" height="7" viewBox="0 0 8 7" style="position:absolute;left:71px;top:4px"><path d="M0.5 7 L0 4 L2.5 2.5 L4 2.7 L5.5 0 L7.6 1 L6.2 3.5 L7.8 4.4 L5 7 Z" fill="#000"/></svg></div></div>
<div class="row" style="top:97px"><div class="cb"><i></i></div><div class="lb" style="background:#12a07a"><span>ts</span><svg width="8" height="7" viewBox="0 0 8 7" style="position:absolute;left:71px;top:4px"><path d="M0.5 7 L0 4 L2.5 2.5 L4 2.7 L5.5 0 L7.6 1 L6.2 3.5 L7.8 4.4 L5 7 Z" fill="#000"/></svg></div></div>
<div class="row" style="top:113px"><div class="cb"><i></i></div><div class="lb" style="background:#fdc858"><span>cs</span><svg width="8" height="7" viewBox="0 0 8 7" style="position:absolute;left:71px;top:4px"><path d="M0.5 7 L0 4 L2.5 2.5 L4 2.7 L5.5 0 L7.6 1 L6.2 3.5 L7.8 4.4 L5 7 Z" fill="#000"/></svg></div></div>
<div class="a" style="left:7px;top:134px;width:117px;height:18px;background:#000;"></div>
<div class="row" style="top:134px"><div class="cb"><i></i></div><div class="lb" style="background:#9edcdc"><span>pln2t</span></div></div>
<div class="a" style="left:7px;top:155px;width:117px;height:18px;background:#000;"></div>
<div class="row" style="top:155px"><div class="cb"><i></i></div><div class="lb" style="background:#fdc858"><span>sig2t</span><svg width="8" height="7" viewBox="0 0 8 7" style="position:absolute;left:71px;top:4px"><path d="M0.5 7 L0 4 L2.5 2.5 L4 2.7 L5.5 0 L7.6 1 L6.2 3.5 L7.8 4.4 L5 7 Z" fill="#000"/></svg></div></div>
<div class="a" style="left:7px;top:176px;width:117px;height:18px;background:#000;"></div>
<div class="row" style="top:176px"><div class="cb"><i></i></div><div class="lb" style="background:#9edcdc"><span>pln3b</span></div></div>
<div class="a" style="left:7px;top:197px;width:117px;height:66px;background:#000;"></div>
<div class="row" style="top:197px"><div class="cb"><i></i></div><div class="lb" style="background:#fdc858"><span>sig3b</span><svg width="8" height="7" viewBox="0 0 8 7" style="position:absolute;left:71px;top:4px"><path d="M0.5 7 L0 4 L2.5 2.5 L4 2.7 L5.5 0 L7.6 1 L6.2 3.5 L7.8 4.4 L5 7 Z" fill="#000"/></svg></div></div>
<div class="row" style="top:213px"><div class="cb" style="background:#1010a0"><i style="border:1px solid #0000c8"></i></div><div class="dotc" style="background:#ff1010"></div><div class="lb" style="background:#fdc858"><span>ss</span><svg width="8" height="7" viewBox="0 0 8 7" style="position:absolute;left:65px;top:4px"><path d="M0.5 7 L0 4 L2.5 2.5 L4 2.7 L5.5 0 L7.6 1 L6.2 3.5 L7.8 4.4 L5 7 Z" fill="#000"/></svg><div style="position:absolute;left:75px;top:5px;width:5px;height:5px;border:1px solid #000;box-sizing:border-box;background:linear-gradient(90deg,transparent 1px,#000 1px,#000 2px,transparent 2px),linear-gradient(0deg,transparent 1px,#000 1px,#000 2px,transparent 2px)"></div></div></div>
<div class="row" style="top:229px"><div class="cb"><i></i></div><div class="dotc" style="background:#40a020"></div><div class="lb" style="background:#12a07a"><span>bs</span><svg width="8" height="7" viewBox="0 0 8 7" style="position:absolute;left:71px;top:4px"><path d="M0.5 7 L0 4 L2.5 2.5 L4 2.7 L5.5 0 L7.6 1 L6.2 3.5 L7.8 4.4 L5 7 Z" fill="#000"/></svg></div></div>
<div class="row" style="top:245px"><div class="cb"><i></i></div><div class="dotc" style="background:#ff9830"></div><div class="lb" style="background:#ffffff"><span>bo</span><svg width="8" height="7" viewBox="0 0 8 7" style="position:absolute;left:71px;top:4px"><path d="M0.5 7 L0 4 L2.5 2.5 L4 2.7 L5.5 0 L7.6 1 L6.2 3.5 L7.8 4.4 L5 7 Z" fill="#000"/></svg></div></div>
<div class="a" style="left:7px;top:266px;width:117px;height:50px;background:#000;"></div>
<div class="row" style="top:266px"><div class="cb"><i></i></div><div class="dotc" style="background:#0828ff"></div><div class="lb" style="background:#9db6be"><span>drl</span></div></div>
<div class="row" style="top:282px"><div class="cb"><i></i></div><div class="lb" style="background:#9db6be"><span>ldi</span></div></div>
<div class="row" style="top:298px"><div class="cb"><i></i></div><div class="lb" style="background:#dcdcdc"><span>rout</span></div></div>
<div class="a" style="left:7px;top:319px;width:117px;height:162px;background:#000;"></div>
<div class="row" style="top:319px"><div class="cb"><i></i></div><div class="lb" style="background:#9edcdc"><span>gd1</span><svg width="8" height="7" viewBox="0 0 8 7" style="position:absolute;left:71px;top:4px"><path d="M0.5 7 L0 4 L2.5 2.5 L4 2.7 L5.5 0 L7.6 1 L6.2 3.5 L7.8 4.4 L5 7 Z" fill="#000"/></svg></div></div>
<div class="row" style="top:335px"><div class="cb"><i></i></div><div class="dotc" style="background:#ffff40"></div><div class="lb" style="background:#9edcdc"><span>cvia</span></div></div>
<div class="row" style="top:351px"><div class="cb"><i></i></div><div class="lb" style="background:#9edcdc"><span>tp</span></div></div>
<div class="row" style="top:367px"><div class="cb"><i></i></div><div class="lb" style="background:#9edcdc"><span>bp</span></div></div>
<div class="row" style="top:383px"><div class="cb"><i></i></div><div class="lb" style="background:#9edcdc"><span>npth</span></div></div>
<div class="row" style="top:399px"><div class="cb"><i></i></div><div class="lb" style="background:#9edcdc"><span>v-cut</span></div></div>
<div class="row" style="top:415px"><div class="cb"><i></i></div><div class="lb" style="background:#9edcdc"><span>dwk</span></div></div>
<div class="row" style="top:431px"><div class="cb"><i></i></div><div class="lb" style="background:#9edcdc"><span>d</span></div></div>
<div class="row" style="top:447px"><div class="cb"><i></i></div><div class="lb" style="background:#9edcdc"><span>ts1</span><svg width="8" height="7" viewBox="0 0 8 7" style="position:absolute;left:71px;top:4px"><path d="M0.5 7 L0 4 L2.5 2.5 L4 2.7 L5.5 0 L7.6 1 L6.2 3.5 L7.8 4.4 L5 7 Z" fill="#000"/></svg></div></div>
<div class="row" style="top:463px"><div class="cb"><i></i></div><div class="lb" style="background:#9edcdc"><span>ddd</span></div></div>
</body></html>
